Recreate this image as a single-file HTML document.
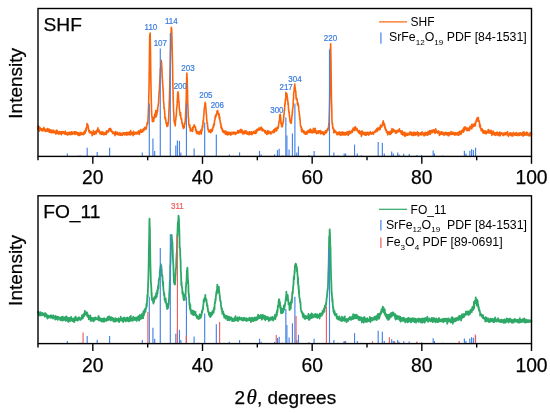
<!DOCTYPE html>
<html><head><meta charset="utf-8"><title>XRD</title>
<style>html,body{margin:0;padding:0;background:#fff}svg{display:block}text{white-space:pre}</style></head>
<body>
<svg width="550" height="413" viewBox="0 0 550 413" font-family="'Liberation Sans', sans-serif">
<rect width="550" height="413" fill="#fff"/>
<polyline fill="none" stroke="#fa640a" stroke-width="1.6" stroke-linejoin="round" points="38.00,129.69 38.16,125.84 38.33,128.43 38.49,127.65 38.66,127.81 38.82,128.07 38.99,126.59 39.15,128.17 39.32,127.69 39.48,131.31 39.64,128.73 39.81,128.29 39.97,128.41 40.14,128.13 40.30,127.86 40.47,128.48 40.63,129.27 40.80,128.71 40.96,129.78 41.13,128.85 41.29,129.09 41.45,130.44 41.62,129.63 41.78,128.79 41.95,129.11 42.11,129.78 42.28,131.01 42.44,129.18 42.61,129.25 42.77,130.36 42.93,128.80 43.10,129.35 43.26,130.39 43.43,130.18 43.59,129.81 43.76,130.35 43.92,127.41 44.09,130.73 44.25,129.09 44.42,128.52 44.58,130.22 44.74,130.63 44.91,129.69 45.07,129.19 45.24,130.17 45.40,130.14 45.57,131.43 45.73,130.90 45.90,130.47 46.06,131.29 46.22,130.21 46.39,129.63 46.55,130.95 46.72,130.99 46.88,130.34 47.05,129.90 47.21,130.79 47.38,128.51 47.54,131.26 47.71,131.12 47.87,129.34 48.03,130.82 48.20,129.98 48.36,131.48 48.53,129.14 48.69,130.12 48.86,131.54 49.02,131.95 49.19,129.16 49.35,130.60 49.51,131.34 49.68,130.57 49.84,132.47 50.01,130.13 50.17,131.48 50.34,130.31 50.50,132.43 50.67,131.25 50.83,130.98 51.00,129.86 51.16,132.78 51.32,132.02 51.49,132.05 51.65,132.40 51.82,131.75 51.98,130.94 52.15,130.83 52.31,130.85 52.48,132.73 52.64,130.34 52.80,131.10 52.97,131.36 53.13,131.85 53.30,132.18 53.46,130.64 53.63,130.26 53.79,131.75 53.96,132.81 54.12,132.45 54.29,132.01 54.45,131.58 54.61,132.12 54.78,131.69 54.94,132.61 55.11,131.26 55.27,132.07 55.44,131.89 55.60,132.46 55.77,132.21 55.93,134.22 56.09,133.34 56.26,133.36 56.42,130.36 56.59,131.83 56.75,131.62 56.92,132.62 57.08,130.24 57.25,133.20 57.41,133.13 57.58,131.13 57.74,131.42 57.90,131.59 58.07,132.33 58.23,132.86 58.40,134.07 58.56,132.18 58.73,133.02 58.89,132.51 59.06,133.90 59.22,133.05 59.38,133.60 59.55,131.53 59.71,132.30 59.88,131.78 60.04,133.78 60.21,133.07 60.37,132.27 60.54,132.16 60.70,132.97 60.87,131.97 61.03,131.79 61.19,133.01 61.36,134.72 61.52,132.42 61.69,132.17 61.85,131.66 62.02,131.53 62.18,133.13 62.35,133.43 62.51,132.72 62.67,133.01 62.84,132.84 63.00,132.87 63.17,131.47 63.33,132.39 63.50,132.89 63.66,132.14 63.83,132.41 63.99,132.13 64.16,132.56 64.32,133.58 64.48,132.52 64.65,132.75 64.81,133.58 64.98,133.45 65.14,134.36 65.31,131.14 65.47,133.67 65.64,132.53 65.80,133.07 65.96,133.68 66.13,133.90 66.29,133.88 66.46,133.13 66.62,134.38 66.79,132.78 66.95,132.91 67.12,133.72 67.28,132.58 67.45,134.90 67.61,133.94 67.77,134.93 67.94,133.06 68.10,132.77 68.27,133.25 68.43,133.74 68.60,132.62 68.76,133.46 68.93,133.13 69.09,134.53 69.25,132.59 69.42,134.06 69.58,132.62 69.75,132.36 69.91,132.58 70.08,132.18 70.24,133.33 70.41,134.09 70.57,133.36 70.74,133.76 70.90,134.63 71.06,133.47 71.23,133.42 71.39,133.02 71.56,131.89 71.72,133.92 71.89,131.78 72.05,133.84 72.22,133.28 72.38,134.26 72.54,133.25 72.71,132.61 72.87,133.62 73.04,132.84 73.20,133.17 73.37,133.37 73.53,133.22 73.70,133.18 73.86,132.64 74.03,133.19 74.19,131.53 74.35,133.23 74.52,132.35 74.68,134.33 74.85,134.46 75.01,131.72 75.18,133.51 75.34,133.28 75.51,132.50 75.67,133.85 75.83,133.01 76.00,131.90 76.16,133.18 76.33,133.29 76.49,133.51 76.66,132.37 76.82,133.95 76.99,134.05 77.15,132.45 77.32,132.87 77.48,133.36 77.64,132.95 77.81,134.93 77.97,133.62 78.14,132.57 78.30,132.76 78.47,133.39 78.63,135.41 78.80,133.29 78.96,133.55 79.12,133.88 79.29,133.40 79.45,135.39 79.62,132.98 79.78,134.07 79.95,133.57 80.11,133.96 80.28,132.41 80.44,134.94 80.61,133.31 80.77,133.44 80.93,132.60 81.10,132.76 81.26,133.87 81.43,134.23 81.59,134.01 81.76,134.40 81.92,133.96 82.09,133.35 82.25,134.03 82.41,133.81 82.58,133.18 82.74,133.88 82.91,134.34 83.07,133.40 83.24,132.85 83.40,133.75 83.57,134.73 83.73,132.84 83.90,132.88 84.06,132.76 84.22,133.87 84.39,131.05 84.55,132.87 84.72,133.44 84.88,131.44 85.05,133.28 85.21,132.14 85.38,130.80 85.54,131.11 85.70,129.01 85.87,129.42 86.03,131.19 86.20,127.91 86.36,130.03 86.53,127.44 86.69,127.94 86.86,126.39 87.02,123.51 87.19,124.99 87.35,125.71 87.51,124.37 87.68,124.46 87.84,126.74 88.01,126.23 88.17,125.79 88.34,127.48 88.50,129.66 88.67,128.95 88.83,130.87 88.99,131.92 89.16,130.96 89.32,130.27 89.49,130.46 89.65,131.92 89.82,132.98 89.98,132.63 90.15,133.04 90.31,132.29 90.48,133.06 90.64,132.48 90.80,132.68 90.97,131.89 91.13,131.70 91.30,132.70 91.46,132.19 91.63,132.35 91.79,133.80 91.96,133.14 92.12,135.79 92.28,134.07 92.45,132.72 92.61,133.95 92.78,133.59 92.94,132.68 93.11,134.23 93.27,132.58 93.44,130.57 93.60,133.91 93.77,132.65 93.93,134.45 94.09,132.54 94.26,132.02 94.42,134.36 94.59,131.97 94.75,133.02 94.92,134.03 95.08,132.73 95.25,132.43 95.41,132.46 95.57,132.98 95.74,131.33 95.90,132.44 96.07,132.23 96.23,133.67 96.40,131.01 96.56,130.27 96.73,131.63 96.89,130.38 97.06,130.87 97.22,130.58 97.38,131.46 97.55,129.64 97.71,130.14 97.88,127.79 98.04,129.44 98.21,131.85 98.37,129.86 98.54,129.99 98.70,129.68 98.86,131.56 99.03,131.38 99.19,130.31 99.36,132.22 99.52,132.04 99.69,132.67 99.85,131.57 100.02,133.88 100.18,132.83 100.35,132.49 100.51,132.26 100.67,132.61 100.84,133.69 101.00,132.78 101.17,134.03 101.33,133.66 101.50,134.39 101.66,133.96 101.83,133.24 101.99,131.66 102.15,133.61 102.32,134.06 102.48,133.53 102.65,133.88 102.81,133.00 102.98,133.08 103.14,132.60 103.31,134.60 103.47,133.55 103.64,132.98 103.80,132.24 103.96,133.25 104.13,134.63 104.29,133.75 104.46,132.69 104.62,134.55 104.79,134.51 104.95,134.09 105.12,133.87 105.28,134.15 105.44,133.56 105.61,133.70 105.77,132.25 105.94,134.19 106.10,132.98 106.27,134.49 106.43,130.75 106.60,133.10 106.76,133.23 106.93,131.90 107.09,132.48 107.25,132.61 107.42,132.30 107.58,131.11 107.75,131.31 107.91,132.22 108.08,132.29 108.24,131.01 108.41,130.82 108.57,130.77 108.73,131.41 108.90,129.26 109.06,128.86 109.23,130.15 109.39,128.87 109.56,129.31 109.72,129.93 109.89,130.31 110.05,128.83 110.22,130.70 110.38,128.29 110.54,130.64 110.71,128.72 110.87,129.16 111.04,131.15 111.20,130.32 111.37,130.13 111.53,130.63 111.70,131.66 111.86,131.35 112.02,131.55 112.19,132.71 112.35,131.25 112.52,131.62 112.68,131.73 112.85,133.39 113.01,133.36 113.18,133.74 113.34,132.66 113.51,132.66 113.67,133.64 113.83,132.62 114.00,133.78 114.16,133.76 114.33,132.57 114.49,133.16 114.66,133.18 114.82,134.85 114.99,135.63 115.15,133.32 115.31,133.45 115.48,131.48 115.64,133.67 115.81,133.50 115.97,132.60 116.14,134.23 116.30,132.20 116.47,133.39 116.63,133.71 116.80,132.52 116.96,134.35 117.12,134.53 117.29,132.42 117.45,132.41 117.62,134.16 117.78,133.62 117.95,132.60 118.11,133.40 118.28,133.57 118.44,133.54 118.60,134.38 118.77,134.00 118.93,135.20 119.10,134.86 119.26,134.26 119.43,134.61 119.59,134.83 119.76,134.29 119.92,132.63 120.09,134.43 120.25,133.75 120.41,135.09 120.58,133.77 120.74,134.14 120.91,133.97 121.07,135.14 121.24,133.84 121.40,133.46 121.57,133.96 121.73,133.31 121.89,133.83 122.06,133.68 122.22,133.92 122.39,135.35 122.55,133.33 122.72,133.72 122.88,133.51 123.05,134.26 123.21,132.66 123.38,133.08 123.54,133.64 123.70,134.15 123.87,133.63 124.03,133.24 124.20,132.92 124.36,134.11 124.53,134.91 124.69,133.94 124.86,133.82 125.02,134.04 125.18,132.83 125.35,133.38 125.51,133.41 125.68,133.90 125.84,133.61 126.01,132.58 126.17,134.61 126.34,135.09 126.50,133.39 126.67,133.96 126.83,133.85 126.99,134.29 127.16,132.32 127.32,135.00 127.49,133.19 127.65,134.69 127.82,133.66 127.98,133.24 128.15,133.45 128.31,134.35 128.47,132.82 128.64,133.23 128.80,133.14 128.97,132.06 129.13,134.67 129.30,134.04 129.46,133.51 129.63,134.54 129.79,132.68 129.96,133.45 130.12,135.00 130.28,134.35 130.45,131.55 130.61,130.58 130.78,132.57 130.94,134.39 131.11,133.04 131.27,133.26 131.44,133.97 131.60,132.66 131.76,133.61 131.93,134.10 132.09,133.81 132.26,133.74 132.42,132.85 132.59,133.82 132.75,132.98 132.92,134.49 133.08,135.59 133.25,132.68 133.41,131.41 133.57,132.93 133.74,133.61 133.90,134.19 134.07,134.20 134.23,132.55 134.40,132.53 134.56,134.32 134.73,132.23 134.89,134.13 135.05,132.96 135.22,133.81 135.38,133.74 135.55,133.78 135.71,133.80 135.88,132.18 136.04,133.29 136.21,133.01 136.37,133.25 136.54,134.04 136.70,132.68 136.86,132.26 137.03,132.21 137.19,132.55 137.36,133.46 137.52,132.02 137.69,133.75 137.85,132.93 138.02,132.43 138.18,131.39 138.34,132.76 138.51,133.11 138.67,130.85 138.84,133.46 139.00,133.82 139.17,132.58 139.33,132.65 139.50,134.34 139.66,133.20 139.83,131.19 139.99,131.92 140.15,131.72 140.32,131.64 140.48,129.52 140.65,132.32 140.81,130.94 140.98,131.60 141.14,131.23 141.31,132.07 141.47,130.89 141.63,130.32 141.80,131.46 141.96,132.19 142.13,130.45 142.29,131.95 142.46,130.78 142.62,129.91 142.79,131.77 142.95,129.40 143.12,131.05 143.28,129.47 143.44,130.27 143.61,128.50 143.77,128.76 143.94,130.51 144.10,129.52 144.27,129.25 144.43,128.64 144.60,129.39 144.76,127.41 144.92,127.55 145.09,128.37 145.25,127.53 145.42,127.51 145.58,127.98 145.75,127.72 145.91,127.44 146.08,129.17 146.24,128.26 146.41,128.22 146.57,126.59 146.73,125.74 146.90,124.30 147.06,125.01 147.23,122.52 147.39,123.47 147.56,124.10 147.72,123.98 147.89,121.73 148.05,117.47 148.21,116.40 148.38,110.94 148.54,108.24 148.71,100.42 148.87,93.98 149.04,87.53 149.20,73.47 149.37,64.55 149.53,48.01 149.70,36.61 149.86,34.22 150.02,34.13 150.19,33.13 150.35,43.65 150.52,51.71 150.68,66.43 150.85,79.87 151.01,88.06 151.18,95.69 151.34,101.22 151.50,109.08 151.67,113.51 151.83,116.00 152.00,117.51 152.16,116.96 152.33,121.59 152.49,119.97 152.66,120.22 152.82,121.45 152.99,118.04 153.15,120.47 153.31,120.22 153.48,120.57 153.64,121.43 153.81,119.98 153.97,116.70 154.14,118.03 154.30,118.18 154.47,117.56 154.63,115.20 154.79,114.18 154.96,116.54 155.12,115.85 155.29,115.02 155.45,112.49 155.62,116.88 155.78,110.54 155.95,113.76 156.11,116.90 156.28,113.79 156.44,114.15 156.60,112.05 156.77,115.16 156.93,111.20 157.10,112.79 157.26,112.00 157.43,109.60 157.59,111.38 157.76,107.06 157.92,106.86 158.08,106.40 158.25,104.24 158.41,103.80 158.58,102.58 158.74,98.53 158.91,95.78 159.07,93.29 159.24,90.85 159.40,90.07 159.57,85.30 159.73,83.40 159.89,79.40 160.06,74.90 160.22,75.28 160.39,68.78 160.55,68.44 160.72,69.47 160.88,62.64 161.05,63.88 161.21,60.42 161.37,63.07 161.54,62.08 161.70,66.07 161.87,67.88 162.03,71.79 162.20,77.50 162.36,78.04 162.53,81.93 162.69,83.84 162.86,86.71 163.02,88.84 163.18,90.27 163.35,96.30 163.51,101.51 163.68,102.21 163.84,103.05 164.01,108.52 164.17,107.52 164.34,109.16 164.50,110.11 164.66,112.08 164.83,114.50 164.99,118.73 165.16,117.11 165.32,117.19 165.49,118.73 165.65,120.11 165.82,119.18 165.98,122.09 166.15,123.43 166.31,123.60 166.47,124.45 166.64,122.83 166.80,122.82 166.97,126.46 167.13,126.52 167.30,123.87 167.46,125.84 167.63,125.60 167.79,125.94 167.95,125.12 168.12,123.60 168.28,123.28 168.45,121.71 168.61,119.41 168.78,114.43 168.94,109.41 169.11,108.18 169.27,101.92 169.44,99.05 169.60,93.37 169.76,85.46 169.93,76.59 170.09,69.44 170.26,63.72 170.42,51.83 170.59,48.32 170.75,41.54 170.92,35.36 171.08,34.62 171.24,27.24 171.41,31.09 171.57,27.95 171.74,31.57 171.90,35.64 172.07,45.21 172.23,49.09 172.40,59.00 172.56,64.60 172.73,77.09 172.89,86.24 173.05,90.65 173.22,99.68 173.38,103.87 173.55,111.32 173.71,112.71 173.88,114.14 174.04,120.83 174.21,121.02 174.37,121.56 174.53,123.08 174.70,122.63 174.86,124.49 175.03,123.41 175.19,125.86 175.36,124.31 175.52,120.75 175.69,119.73 175.85,119.42 176.02,116.08 176.18,116.44 176.34,114.40 176.51,111.05 176.67,108.79 176.84,107.58 177.00,106.22 177.17,103.64 177.33,98.77 177.50,97.85 177.66,93.49 177.82,94.37 177.99,91.82 178.15,95.21 178.32,93.21 178.48,95.50 178.65,99.21 178.81,102.40 178.98,101.65 179.14,105.19 179.31,108.11 179.47,109.93 179.63,109.86 179.80,112.32 179.96,112.77 180.13,115.75 180.29,115.25 180.46,113.35 180.62,112.77 180.79,116.32 180.95,118.33 181.11,117.77 181.28,119.46 181.44,118.67 181.61,118.57 181.77,122.08 181.94,122.30 182.10,123.92 182.27,122.50 182.43,125.04 182.60,124.87 182.76,126.99 182.92,125.97 183.09,126.28 183.25,126.52 183.42,128.54 183.58,127.23 183.75,126.28 183.91,125.77 184.08,125.39 184.24,127.60 184.40,123.49 184.57,123.79 184.73,124.55 184.90,124.08 185.06,121.21 185.23,120.67 185.39,118.61 185.56,116.38 185.72,111.97 185.89,110.34 186.05,103.46 186.21,99.88 186.38,89.05 186.54,86.09 186.71,76.54 186.87,73.12 187.04,77.62 187.20,79.09 187.37,87.49 187.53,91.58 187.69,102.26 187.86,105.25 188.02,108.23 188.19,113.80 188.35,117.72 188.52,118.10 188.68,121.65 188.85,125.02 189.01,124.98 189.18,125.11 189.34,125.45 189.50,127.45 189.67,125.94 189.83,124.98 190.00,127.89 190.16,127.90 190.33,131.06 190.49,129.77 190.66,128.92 190.82,128.96 190.98,130.72 191.15,129.54 191.31,129.84 191.48,130.31 191.64,130.43 191.81,130.34 191.97,130.19 192.14,131.13 192.30,131.26 192.47,127.63 192.63,131.48 192.79,128.63 192.96,129.35 193.12,126.89 193.29,127.58 193.45,127.08 193.62,126.64 193.78,127.15 193.95,126.72 194.11,124.85 194.27,125.79 194.44,126.79 194.60,126.92 194.77,126.10 194.93,126.51 195.10,127.06 195.26,126.55 195.43,126.88 195.59,130.27 195.76,128.81 195.92,129.79 196.08,129.44 196.25,131.83 196.41,132.63 196.58,131.11 196.74,132.08 196.91,131.15 197.07,133.66 197.24,133.05 197.40,131.58 197.56,133.56 197.73,132.83 197.89,132.93 198.06,132.91 198.22,132.00 198.39,132.13 198.55,133.17 198.72,132.55 198.88,131.72 199.05,134.38 199.21,132.33 199.37,131.98 199.54,131.82 199.70,133.03 199.87,133.24 200.03,132.52 200.20,133.02 200.36,130.79 200.53,131.73 200.69,131.54 200.85,131.85 201.02,132.16 201.18,129.64 201.35,134.25 201.51,130.26 201.68,131.10 201.84,131.18 202.01,130.76 202.17,129.60 202.34,125.76 202.50,126.76 202.66,127.72 202.83,124.81 202.99,123.33 203.16,120.34 203.32,122.82 203.49,120.19 203.65,116.48 203.82,115.35 203.98,113.24 204.14,109.67 204.31,108.73 204.47,107.54 204.64,106.31 204.80,106.09 204.97,103.39 205.13,102.35 205.30,103.95 205.46,103.21 205.63,103.59 205.79,108.79 205.95,108.51 206.12,111.30 206.28,114.16 206.45,113.98 206.61,118.30 206.78,119.99 206.94,121.12 207.11,123.33 207.27,123.49 207.43,123.23 207.60,126.42 207.76,126.73 207.93,129.34 208.09,129.38 208.26,129.14 208.42,130.15 208.59,131.75 208.75,131.82 208.92,131.31 209.08,131.55 209.24,131.02 209.41,131.26 209.57,132.00 209.74,131.40 209.90,131.81 210.07,130.51 210.23,129.99 210.40,129.94 210.56,131.07 210.72,132.65 210.89,132.44 211.05,130.30 211.22,129.65 211.38,131.71 211.55,131.24 211.71,129.30 211.88,131.40 212.04,130.30 212.21,131.14 212.37,129.87 212.53,130.07 212.70,129.12 212.86,127.42 213.03,127.69 213.19,126.73 213.36,127.76 213.52,125.26 213.69,124.06 213.85,125.81 214.01,125.65 214.18,125.29 214.34,124.17 214.51,120.40 214.67,120.54 214.84,119.89 215.00,119.70 215.17,116.25 215.33,118.06 215.50,117.61 215.66,115.24 215.82,115.84 215.99,116.51 216.15,114.31 216.32,115.03 216.48,114.41 216.65,113.10 216.81,112.65 216.98,111.30 217.14,113.29 217.30,110.82 217.47,110.49 217.63,112.52 217.80,110.75 217.96,112.63 218.13,113.88 218.29,113.04 218.46,113.63 218.62,115.34 218.79,115.80 218.95,113.55 219.11,114.64 219.28,118.82 219.44,118.44 219.61,116.23 219.77,118.00 219.94,120.50 220.10,120.15 220.27,122.66 220.43,123.00 220.59,124.23 220.76,123.13 220.92,125.81 221.09,127.92 221.25,125.61 221.42,128.43 221.58,128.64 221.75,128.81 221.91,128.59 222.08,127.95 222.24,128.67 222.40,130.66 222.57,131.21 222.73,131.76 222.90,131.79 223.06,132.00 223.23,130.98 223.39,130.48 223.56,131.98 223.72,132.42 223.88,132.20 224.05,130.87 224.21,131.91 224.38,131.15 224.54,132.71 224.71,131.72 224.87,132.59 225.04,133.10 225.20,132.99 225.37,134.14 225.53,131.99 225.69,131.08 225.86,133.89 226.02,134.32 226.19,134.38 226.35,133.40 226.52,133.65 226.68,133.30 226.85,132.08 227.01,132.73 227.17,133.69 227.34,132.76 227.50,134.96 227.67,131.95 227.83,132.93 228.00,134.30 228.16,132.80 228.33,132.36 228.49,132.17 228.66,132.73 228.82,134.70 228.98,133.74 229.15,133.84 229.31,132.94 229.48,134.14 229.64,133.50 229.81,132.60 229.97,133.01 230.14,133.59 230.30,134.44 230.46,133.36 230.63,133.85 230.79,135.18 230.96,132.71 231.12,132.32 231.29,134.26 231.45,133.78 231.62,133.30 231.78,133.61 231.95,133.09 232.11,133.82 232.27,133.06 232.44,134.05 232.60,132.30 232.77,132.60 232.93,133.40 233.10,132.87 233.26,133.88 233.43,133.21 233.59,132.74 233.75,133.38 233.92,132.71 234.08,131.77 234.25,132.11 234.41,132.38 234.58,132.64 234.74,133.11 234.91,133.79 235.07,133.44 235.24,134.49 235.40,134.00 235.56,132.66 235.73,134.25 235.89,133.79 236.06,132.28 236.22,132.91 236.39,133.57 236.55,132.75 236.72,133.39 236.88,132.78 237.04,133.00 237.21,132.01 237.37,132.59 237.54,131.85 237.70,132.74 237.87,130.52 238.03,132.31 238.20,133.09 238.36,132.42 238.53,131.80 238.69,132.26 238.85,130.93 239.02,130.89 239.18,131.27 239.35,131.42 239.51,132.41 239.68,130.64 239.84,132.37 240.01,129.94 240.17,130.64 240.33,131.32 240.50,132.42 240.66,130.75 240.83,129.32 240.99,131.71 241.16,131.30 241.32,130.33 241.49,130.38 241.65,130.73 241.82,131.50 241.98,132.06 242.14,130.10 242.31,133.64 242.47,131.53 242.64,131.26 242.80,132.28 242.97,131.81 243.13,133.92 243.30,132.83 243.46,131.54 243.62,131.58 243.79,131.54 243.95,131.75 244.12,132.73 244.28,131.59 244.45,133.70 244.61,132.22 244.78,132.22 244.94,133.26 245.11,130.67 245.27,131.67 245.43,133.10 245.60,132.62 245.76,132.65 245.93,133.06 246.09,132.22 246.26,132.64 246.42,131.62 246.59,131.20 246.75,134.03 246.91,132.12 247.08,132.34 247.24,134.24 247.41,133.97 247.57,132.59 247.74,132.62 247.90,133.03 248.07,132.28 248.23,133.63 248.40,133.29 248.56,133.29 248.72,133.85 248.89,133.83 249.05,134.83 249.22,134.54 249.38,131.71 249.55,134.00 249.71,132.23 249.88,131.95 250.04,133.83 250.20,132.58 250.37,132.91 250.53,134.12 250.70,132.58 250.86,132.36 251.03,133.42 251.19,134.19 251.36,133.56 251.52,131.69 251.69,132.46 251.85,132.87 252.01,134.68 252.18,133.73 252.34,133.65 252.51,133.92 252.67,132.53 252.84,133.19 253.00,133.14 253.17,131.77 253.33,132.58 253.49,133.04 253.66,131.49 253.82,133.12 253.99,133.01 254.15,133.18 254.32,131.45 254.48,132.17 254.65,133.32 254.81,132.62 254.98,131.07 255.14,131.91 255.30,132.92 255.47,131.42 255.63,131.74 255.80,133.68 255.96,131.13 256.13,130.94 256.29,129.97 256.46,130.18 256.62,132.10 256.78,130.43 256.95,129.30 257.11,129.41 257.28,130.19 257.44,130.81 257.61,129.22 257.77,130.52 257.94,129.23 258.10,129.94 258.27,130.00 258.43,129.98 258.59,128.86 258.76,129.03 258.92,129.62 259.09,127.75 259.25,129.15 259.42,129.44 259.58,129.92 259.75,128.81 259.91,128.64 260.07,128.96 260.24,128.09 260.40,128.63 260.57,129.27 260.73,129.18 260.90,127.91 261.06,128.68 261.23,126.97 261.39,129.95 261.56,128.71 261.72,129.56 261.88,128.34 262.05,129.44 262.21,130.07 262.38,130.70 262.54,128.54 262.71,130.79 262.87,129.93 263.04,129.47 263.20,130.79 263.36,130.17 263.53,130.29 263.69,130.02 263.86,131.01 264.02,130.95 264.19,130.87 264.35,130.24 264.52,130.77 264.68,131.73 264.85,132.64 265.01,131.52 265.17,132.95 265.34,131.72 265.50,130.82 265.67,132.48 265.83,131.10 266.00,132.43 266.16,133.11 266.33,131.92 266.49,132.18 266.65,134.55 266.82,132.60 266.98,132.67 267.15,133.18 267.31,132.44 267.48,132.49 267.64,132.95 267.81,130.50 267.97,133.94 268.14,131.74 268.30,131.76 268.46,133.22 268.63,132.78 268.79,131.65 268.96,132.96 269.12,131.76 269.29,132.16 269.45,131.44 269.62,132.03 269.78,133.11 269.94,132.86 270.11,133.00 270.27,133.53 270.44,132.64 270.60,132.06 270.77,132.36 270.93,134.05 271.10,132.56 271.26,132.77 271.43,132.34 271.59,132.60 271.75,132.70 271.92,132.24 272.08,132.04 272.25,131.39 272.41,131.25 272.58,132.31 272.74,132.54 272.91,132.61 273.07,131.72 273.23,130.81 273.40,132.05 273.56,131.94 273.73,129.85 273.89,131.90 274.06,131.58 274.22,132.49 274.39,129.75 274.55,129.49 274.72,131.34 274.88,128.77 275.04,129.67 275.21,129.22 275.37,129.19 275.54,128.22 275.70,129.73 275.87,130.81 276.03,130.20 276.20,130.11 276.36,129.23 276.52,130.89 276.69,129.88 276.85,130.27 277.02,127.56 277.18,129.28 277.35,127.61 277.51,128.88 277.68,128.46 277.84,126.80 278.01,127.74 278.17,128.30 278.33,127.05 278.50,126.48 278.66,124.08 278.83,123.29 278.99,121.64 279.16,121.75 279.32,121.60 279.49,119.25 279.65,117.37 279.81,114.91 279.98,116.39 280.14,115.61 280.31,114.18 280.47,115.58 280.64,118.68 280.80,119.43 280.97,123.72 281.13,122.97 281.30,122.69 281.46,124.02 281.62,126.79 281.79,124.34 281.95,126.31 282.12,125.91 282.28,126.81 282.45,125.43 282.61,123.88 282.78,124.24 282.94,122.91 283.10,123.01 283.27,120.71 283.43,121.96 283.60,118.10 283.76,117.33 283.93,114.38 284.09,113.77 284.26,111.94 284.42,110.40 284.59,109.69 284.75,105.86 284.91,103.65 285.08,104.91 285.24,101.19 285.41,99.09 285.57,100.62 285.74,98.84 285.90,92.27 286.07,95.13 286.23,96.43 286.39,96.14 286.56,93.76 286.72,97.29 286.89,93.71 287.05,95.18 287.22,96.53 287.38,97.26 287.55,99.69 287.71,101.30 287.88,101.05 288.04,104.78 288.20,103.22 288.37,105.59 288.53,110.07 288.70,109.40 288.86,112.39 289.03,111.93 289.19,113.69 289.36,115.33 289.52,117.00 289.68,117.56 289.85,119.05 290.01,120.74 290.18,122.11 290.34,121.38 290.51,122.41 290.67,122.93 290.84,120.66 291.00,119.92 291.17,123.30 291.33,122.42 291.49,120.19 291.66,119.61 291.82,116.88 291.99,114.96 292.15,115.60 292.32,111.51 292.48,112.85 292.65,108.61 292.81,107.80 292.97,107.95 293.14,105.57 293.30,99.83 293.47,99.53 293.63,93.75 293.80,92.21 293.96,91.77 294.13,91.77 294.29,86.93 294.46,87.88 294.62,86.53 294.78,83.98 294.95,86.30 295.11,89.87 295.28,88.05 295.44,90.30 295.61,92.20 295.77,90.95 295.94,95.67 296.10,97.46 296.26,98.85 296.43,99.52 296.59,97.70 296.76,98.44 296.92,98.95 297.09,99.51 297.25,100.36 297.42,103.76 297.58,105.11 297.75,102.57 297.91,105.48 298.07,103.18 298.24,105.47 298.40,105.49 298.57,105.71 298.73,109.32 298.90,110.66 299.06,111.38 299.23,112.68 299.39,113.58 299.55,116.21 299.72,117.13 299.88,119.65 300.05,119.36 300.21,122.41 300.38,124.01 300.54,125.98 300.71,126.83 300.87,126.88 301.04,126.84 301.20,126.46 301.36,128.98 301.53,130.94 301.69,131.65 301.86,128.03 302.02,130.09 302.19,130.77 302.35,130.36 302.52,131.70 302.68,131.72 302.84,131.33 303.01,131.88 303.17,130.54 303.34,131.17 303.50,131.30 303.67,132.97 303.83,130.71 304.00,132.02 304.16,132.94 304.33,132.20 304.49,132.99 304.65,131.67 304.82,132.66 304.98,133.09 305.15,134.29 305.31,132.92 305.48,133.55 305.64,132.25 305.81,132.32 305.97,133.64 306.13,132.73 306.30,133.47 306.46,132.80 306.63,134.06 306.79,134.27 306.96,131.31 307.12,133.74 307.29,132.41 307.45,132.42 307.62,131.84 307.78,132.56 307.94,130.85 308.11,131.16 308.27,131.08 308.44,132.01 308.60,132.55 308.77,132.33 308.93,131.94 309.10,131.01 309.26,129.87 309.42,131.83 309.59,131.55 309.75,131.69 309.92,132.64 310.08,131.09 310.25,131.02 310.41,128.99 310.58,131.64 310.74,131.02 310.91,130.33 311.07,131.35 311.23,129.95 311.40,130.39 311.56,132.72 311.73,131.54 311.89,131.68 312.06,131.48 312.22,131.36 312.39,130.91 312.55,132.88 312.71,130.62 312.88,131.39 313.04,130.47 313.21,130.35 313.37,128.36 313.54,128.86 313.70,132.18 313.87,132.14 314.03,130.33 314.20,130.73 314.36,131.37 314.52,129.88 314.69,132.54 314.85,129.92 315.02,130.26 315.18,128.38 315.35,132.46 315.51,131.14 315.68,132.66 315.84,130.25 316.00,131.56 316.17,131.36 316.33,131.54 316.50,133.34 316.66,133.57 316.83,132.80 316.99,131.21 317.16,132.47 317.32,132.94 317.49,132.27 317.65,132.33 317.81,132.31 317.98,131.10 318.14,132.20 318.31,133.49 318.47,131.17 318.64,132.21 318.80,132.94 318.97,130.99 319.13,132.15 319.29,130.78 319.46,131.82 319.62,131.14 319.79,131.64 319.95,132.04 320.12,132.27 320.28,132.37 320.45,130.43 320.61,134.04 320.78,132.40 320.94,131.69 321.10,132.13 321.27,133.00 321.43,131.84 321.60,132.39 321.76,132.36 321.93,133.27 322.09,132.13 322.26,133.22 322.42,133.13 322.58,132.69 322.75,133.93 322.91,132.85 323.08,131.78 323.24,133.09 323.41,132.92 323.57,132.77 323.74,133.00 323.90,134.87 324.07,132.96 324.23,133.14 324.39,132.48 324.56,133.84 324.72,132.58 324.89,131.86 325.05,131.44 325.22,132.96 325.38,133.09 325.55,130.91 325.71,131.61 325.87,132.77 326.04,133.02 326.20,130.76 326.37,131.47 326.53,132.47 326.70,131.05 326.86,130.94 327.03,130.65 327.19,129.68 327.36,130.68 327.52,130.61 327.68,128.59 327.85,129.61 328.01,130.09 328.18,128.58 328.34,128.59 328.51,126.09 328.67,126.94 328.84,122.99 329.00,123.92 329.16,118.19 329.33,113.69 329.49,107.75 329.66,100.88 329.82,91.06 329.99,78.93 330.15,66.49 330.32,56.10 330.48,48.01 330.65,43.83 330.81,53.90 330.97,60.71 331.14,73.99 331.30,86.25 331.47,99.55 331.63,104.51 331.80,111.11 331.96,119.17 332.13,122.91 332.29,124.80 332.45,123.41 332.62,126.38 332.78,128.25 332.95,128.31 333.11,127.26 333.28,129.10 333.44,128.25 333.61,129.12 333.77,132.69 333.94,131.58 334.10,129.83 334.26,130.03 334.43,132.05 334.59,131.24 334.76,132.48 334.92,131.51 335.09,132.04 335.25,132.55 335.42,131.50 335.58,130.80 335.74,131.54 335.91,132.06 336.07,132.57 336.24,132.76 336.40,132.81 336.57,133.38 336.73,132.19 336.90,134.26 337.06,134.83 337.23,133.42 337.39,133.30 337.55,134.27 337.72,133.77 337.88,133.39 338.05,133.11 338.21,132.63 338.38,132.28 338.54,133.91 338.71,134.39 338.87,132.44 339.03,133.32 339.20,133.59 339.36,133.04 339.53,132.76 339.69,133.10 339.86,131.74 340.02,133.41 340.19,133.22 340.35,135.33 340.52,134.31 340.68,133.21 340.84,133.51 341.01,135.01 341.17,134.93 341.34,133.70 341.50,133.43 341.67,132.29 341.83,133.27 342.00,133.41 342.16,132.92 342.32,135.06 342.49,131.94 342.65,133.45 342.82,133.92 342.98,133.95 343.15,135.04 343.31,132.36 343.48,132.92 343.64,133.65 343.81,133.68 343.97,133.23 344.13,132.90 344.30,134.49 344.46,132.65 344.63,133.05 344.79,134.80 344.96,135.05 345.12,134.29 345.29,132.78 345.45,132.78 345.61,132.73 345.78,132.51 345.94,133.13 346.11,134.58 346.27,133.66 346.44,132.79 346.60,132.75 346.77,132.38 346.93,134.44 347.10,131.60 347.26,133.58 347.42,132.05 347.59,132.35 347.75,131.93 347.92,134.05 348.08,133.09 348.25,135.54 348.41,132.16 348.58,132.05 348.74,133.49 348.90,133.40 349.07,132.59 349.23,130.97 349.40,133.99 349.56,133.13 349.73,132.89 349.89,131.91 350.06,132.93 350.22,131.74 350.39,132.18 350.55,131.86 350.71,133.07 350.88,131.36 351.04,131.35 351.21,132.56 351.37,131.61 351.54,131.24 351.70,130.89 351.87,131.86 352.03,130.20 352.19,131.12 352.36,132.45 352.52,130.75 352.69,129.46 352.85,128.90 353.02,130.06 353.18,128.57 353.35,128.07 353.51,128.76 353.68,128.30 353.84,130.13 354.00,127.73 354.17,130.65 354.33,128.26 354.50,129.07 354.66,129.58 354.83,129.11 354.99,129.61 355.16,127.92 355.32,126.67 355.48,128.78 355.65,127.38 355.81,128.55 355.98,130.16 356.14,129.13 356.31,128.86 356.47,128.47 356.64,129.42 356.80,129.68 356.97,128.46 357.13,130.42 357.29,129.26 357.46,130.65 357.62,130.16 357.79,131.68 357.95,131.70 358.12,131.05 358.28,131.08 358.45,131.73 358.61,132.75 358.77,132.58 358.94,131.88 359.10,132.14 359.27,133.42 359.43,130.60 359.60,132.69 359.76,131.49 359.93,133.62 360.09,132.05 360.26,132.48 360.42,131.69 360.58,132.76 360.75,133.52 360.91,134.37 361.08,131.83 361.24,132.62 361.41,136.52 361.57,133.94 361.74,133.15 361.90,133.66 362.06,130.90 362.23,134.70 362.39,133.45 362.56,132.09 362.72,134.39 362.89,132.84 363.05,132.52 363.22,133.90 363.38,133.81 363.55,133.07 363.71,133.43 363.87,132.33 364.04,132.26 364.20,134.31 364.37,134.68 364.53,133.92 364.70,133.88 364.86,133.22 365.03,133.45 365.19,132.76 365.35,135.10 365.52,133.08 365.68,133.94 365.85,133.58 366.01,132.37 366.18,135.27 366.34,133.26 366.51,132.92 366.67,133.68 366.84,132.80 367.00,133.61 367.16,132.74 367.33,134.07 367.49,133.62 367.66,132.38 367.82,134.46 367.99,133.72 368.15,132.59 368.32,133.86 368.48,133.91 368.64,135.15 368.81,132.76 368.97,134.25 369.14,133.41 369.30,134.02 369.47,133.24 369.63,133.40 369.80,133.87 369.96,132.37 370.13,131.55 370.29,133.36 370.45,132.95 370.62,133.39 370.78,133.85 370.95,133.06 371.11,134.27 371.28,133.14 371.44,133.24 371.61,133.83 371.77,133.57 371.93,132.92 372.10,133.05 372.26,132.21 372.43,132.27 372.59,132.84 372.76,133.41 372.92,132.21 373.09,133.28 373.25,134.19 373.42,134.29 373.58,132.27 373.74,133.11 373.91,132.60 374.07,132.66 374.24,132.60 374.40,132.19 374.57,132.35 374.73,131.64 374.90,131.09 375.06,131.44 375.22,131.53 375.39,132.09 375.55,131.15 375.72,131.36 375.88,131.88 376.05,129.48 376.21,129.99 376.38,130.63 376.54,130.01 376.71,128.87 376.87,130.71 377.03,129.55 377.20,128.53 377.36,131.29 377.53,128.06 377.69,129.23 377.86,128.51 378.02,129.22 378.19,129.61 378.35,128.18 378.51,128.84 378.68,128.76 378.84,127.83 379.01,129.96 379.17,128.90 379.34,128.36 379.50,127.90 379.67,128.14 379.83,128.51 380.00,127.76 380.16,129.35 380.32,125.28 380.49,125.48 380.65,127.19 380.82,125.28 380.98,126.85 381.15,125.92 381.31,126.91 381.48,126.39 381.64,127.01 381.80,126.24 381.97,126.25 382.13,125.12 382.30,125.40 382.46,124.49 382.63,123.03 382.79,122.11 382.96,122.06 383.12,123.98 383.29,120.81 383.45,123.88 383.61,123.09 383.78,125.08 383.94,124.87 384.11,124.26 384.27,125.57 384.44,123.61 384.60,126.83 384.77,127.53 384.93,125.63 385.09,128.89 385.26,128.35 385.42,129.08 385.59,127.92 385.75,130.30 385.92,130.63 386.08,130.39 386.25,129.77 386.41,131.70 386.58,132.40 386.74,131.83 386.90,132.59 387.07,131.31 387.23,132.15 387.40,132.49 387.56,132.41 387.73,134.94 387.89,132.86 388.06,132.06 388.22,133.38 388.38,131.71 388.55,133.07 388.71,133.46 388.88,132.36 389.04,132.53 389.21,131.98 389.37,132.93 389.54,132.20 389.70,134.33 389.87,133.31 390.03,132.48 390.19,131.34 390.36,134.37 390.52,133.62 390.69,132.76 390.85,132.39 391.02,132.23 391.18,131.48 391.35,133.48 391.51,131.75 391.67,130.02 391.84,130.55 392.00,128.52 392.17,131.39 392.33,131.30 392.50,132.08 392.66,132.24 392.83,129.31 392.99,130.40 393.16,130.87 393.32,130.65 393.48,129.40 393.65,130.74 393.81,130.55 393.98,131.52 394.14,130.34 394.31,130.32 394.47,130.26 394.64,130.58 394.80,130.41 394.96,130.99 395.13,131.95 395.29,132.06 395.46,132.99 395.62,132.89 395.79,132.55 395.95,130.99 396.12,132.61 396.28,133.18 396.45,130.91 396.61,131.05 396.77,131.15 396.94,130.99 397.10,131.58 397.27,130.87 397.43,131.96 397.60,130.33 397.76,131.19 397.93,130.69 398.09,130.09 398.25,131.84 398.42,130.76 398.58,131.14 398.75,130.23 398.91,131.18 399.08,131.09 399.24,130.39 399.41,128.91 399.57,131.49 399.74,131.50 399.90,131.18 400.06,131.41 400.23,131.49 400.39,131.75 400.56,130.83 400.72,131.90 400.89,132.43 401.05,131.76 401.22,131.61 401.38,134.31 401.54,133.32 401.71,132.64 401.87,132.59 402.04,130.80 402.20,131.98 402.37,133.10 402.53,134.52 402.70,131.66 402.86,132.90 403.03,135.23 403.19,134.19 403.35,134.01 403.52,134.71 403.68,133.60 403.85,133.58 404.01,134.37 404.18,134.51 404.34,132.87 404.51,135.13 404.67,132.32 404.83,133.23 405.00,136.50 405.16,133.42 405.33,134.43 405.49,133.01 405.66,133.61 405.82,133.27 405.99,133.56 406.15,134.47 406.32,135.42 406.48,134.67 406.64,135.26 406.81,133.50 406.97,135.20 407.14,134.43 407.30,135.13 407.47,133.59 407.63,133.75 407.80,135.13 407.96,134.48 408.12,134.05 408.29,133.38 408.45,133.88 408.62,134.39 408.78,134.59 408.95,133.50 409.11,133.68 409.28,134.34 409.44,133.02 409.61,134.78 409.77,133.97 409.93,133.85 410.10,131.90 410.26,132.60 410.43,133.07 410.59,133.46 410.76,133.02 410.92,134.28 411.09,134.07 411.25,133.73 411.41,132.21 411.58,135.16 411.74,133.72 411.91,134.47 412.07,133.39 412.24,133.96 412.40,134.56 412.57,134.16 412.73,134.79 412.90,133.81 413.06,135.67 413.22,132.34 413.39,133.49 413.55,134.80 413.72,133.75 413.88,133.58 414.05,132.44 414.21,134.99 414.38,132.33 414.54,134.39 414.70,134.13 414.87,134.71 415.03,135.21 415.20,133.35 415.36,133.26 415.53,133.68 415.69,132.48 415.86,134.65 416.02,133.61 416.19,134.08 416.35,132.98 416.51,133.95 416.68,133.41 416.84,133.87 417.01,133.00 417.17,134.81 417.34,133.37 417.50,131.74 417.67,134.48 417.83,133.67 417.99,133.16 418.16,136.07 418.32,133.87 418.49,132.77 418.65,133.38 418.82,134.24 418.98,133.71 419.15,134.97 419.31,134.82 419.48,133.22 419.64,133.93 419.80,134.45 419.97,133.54 420.13,133.49 420.30,134.64 420.46,134.27 420.63,132.68 420.79,133.41 420.96,133.52 421.12,133.77 421.28,133.25 421.45,135.02 421.61,133.03 421.78,132.92 421.94,134.03 422.11,131.91 422.27,132.95 422.44,134.37 422.60,132.69 422.77,133.09 422.93,134.75 423.09,134.20 423.26,133.85 423.42,134.00 423.59,133.20 423.75,134.04 423.92,133.59 424.08,135.91 424.25,134.20 424.41,133.43 424.57,133.67 424.74,133.74 424.90,132.49 425.07,132.95 425.23,134.97 425.40,132.41 425.56,133.10 425.73,134.47 425.89,134.87 426.06,132.65 426.22,134.78 426.38,133.16 426.55,134.90 426.71,133.86 426.88,133.14 427.04,133.99 427.21,133.80 427.37,132.60 427.54,135.12 427.70,132.88 427.86,134.16 428.03,132.67 428.19,131.43 428.36,132.00 428.52,132.85 428.69,133.49 428.85,134.39 429.02,132.83 429.18,132.44 429.35,131.53 429.51,132.52 429.67,132.77 429.84,130.43 430.00,133.54 430.17,133.32 430.33,134.28 430.50,131.31 430.66,132.10 430.83,132.00 430.99,130.70 431.15,131.06 431.32,130.86 431.48,132.17 431.65,132.02 431.81,132.80 431.98,131.11 432.14,130.12 432.31,131.77 432.47,131.65 432.64,131.88 432.80,132.37 432.96,130.62 433.13,131.88 433.29,130.16 433.46,131.23 433.62,131.71 433.79,130.95 433.95,131.26 434.12,129.75 434.28,130.46 434.44,131.23 434.61,129.99 434.77,130.35 434.94,133.47 435.10,131.47 435.27,130.51 435.43,130.36 435.60,132.67 435.76,128.83 435.93,131.16 436.09,132.11 436.25,131.07 436.42,132.14 436.58,130.76 436.75,131.78 436.91,131.90 437.08,131.95 437.24,132.14 437.41,132.11 437.57,133.17 437.73,131.98 437.90,131.76 438.06,132.10 438.23,132.15 438.39,131.12 438.56,130.84 438.72,131.41 438.89,132.93 439.05,132.14 439.22,132.42 439.38,135.39 439.54,133.89 439.71,132.76 439.87,132.44 440.04,134.26 440.20,132.40 440.37,134.22 440.53,133.69 440.70,134.42 440.86,132.61 441.02,134.07 441.19,131.73 441.35,133.19 441.52,134.31 441.68,134.00 441.85,131.82 442.01,134.04 442.18,133.86 442.34,133.43 442.51,132.88 442.67,133.28 442.83,133.04 443.00,134.38 443.16,133.97 443.33,134.51 443.49,134.19 443.66,132.50 443.82,133.74 443.99,135.48 444.15,132.68 444.31,133.89 444.48,132.98 444.64,132.90 444.81,133.85 444.97,134.47 445.14,134.34 445.30,134.09 445.47,134.51 445.63,132.29 445.80,134.40 445.96,134.05 446.12,133.55 446.29,133.70 446.45,132.98 446.62,134.72 446.78,133.07 446.95,132.45 447.11,133.72 447.28,133.22 447.44,133.66 447.60,135.03 447.77,133.61 447.93,133.83 448.10,135.68 448.26,132.52 448.43,134.05 448.59,134.74 448.76,135.04 448.92,135.67 449.09,133.17 449.25,134.26 449.41,133.65 449.58,133.34 449.74,133.11 449.91,132.47 450.07,134.02 450.24,134.38 450.40,132.81 450.57,134.39 450.73,133.25 450.89,132.85 451.06,131.46 451.22,134.68 451.39,134.34 451.55,133.45 451.72,133.38 451.88,132.59 452.05,134.16 452.21,133.65 452.38,134.18 452.54,133.86 452.70,132.48 452.87,132.35 453.03,134.06 453.20,132.23 453.36,133.93 453.53,134.48 453.69,132.57 453.86,134.27 454.02,133.72 454.18,134.14 454.35,133.13 454.51,133.66 454.68,134.04 454.84,135.26 455.01,134.30 455.17,134.09 455.34,132.53 455.50,133.94 455.67,133.05 455.83,133.58 455.99,133.87 456.16,134.47 456.32,134.13 456.49,133.77 456.65,133.55 456.82,134.77 456.98,132.80 457.15,133.60 457.31,134.75 457.47,133.37 457.64,134.25 457.80,134.28 457.97,135.22 458.13,134.45 458.30,131.99 458.46,133.41 458.63,133.64 458.79,134.08 458.96,133.66 459.12,134.94 459.28,134.21 459.45,132.14 459.61,132.58 459.78,131.25 459.94,134.56 460.11,132.84 460.27,132.75 460.44,131.37 460.60,132.31 460.76,132.99 460.93,132.13 461.09,132.03 461.26,131.70 461.42,133.95 461.59,131.50 461.75,130.51 461.92,131.22 462.08,131.21 462.25,131.28 462.41,130.96 462.57,129.94 462.74,130.62 462.90,130.99 463.07,129.07 463.23,132.14 463.40,131.68 463.56,128.04 463.73,129.27 463.89,130.44 464.05,130.60 464.22,130.88 464.38,127.08 464.55,127.68 464.71,128.16 464.88,129.14 465.04,127.42 465.21,128.91 465.37,128.90 465.54,129.18 465.70,127.15 465.86,128.70 466.03,128.63 466.19,128.20 466.36,130.02 466.52,128.49 466.69,130.33 466.85,128.35 467.02,130.75 467.18,130.76 467.34,128.34 467.51,129.56 467.67,129.58 467.84,128.31 468.00,130.09 468.17,129.90 468.33,128.42 468.50,129.35 468.66,130.10 468.83,128.98 468.99,128.34 469.15,130.62 469.32,127.87 469.48,129.08 469.65,129.75 469.81,129.27 469.98,126.41 470.14,127.80 470.31,127.83 470.47,127.58 470.63,128.28 470.80,128.01 470.96,127.41 471.13,127.38 471.29,128.01 471.46,128.11 471.62,124.61 471.79,128.84 471.95,125.78 472.12,127.11 472.28,124.41 472.44,125.53 472.61,124.65 472.77,127.13 472.94,126.86 473.10,125.84 473.27,125.59 473.43,126.14 473.60,124.61 473.76,124.89 473.92,124.62 474.09,126.24 474.25,125.22 474.42,123.61 474.58,125.22 474.75,125.19 474.91,125.91 475.08,123.43 475.24,124.20 475.41,125.77 475.57,122.62 475.73,122.17 475.90,122.76 476.06,121.13 476.23,121.27 476.39,120.21 476.56,119.42 476.72,121.03 476.89,119.11 477.05,117.99 477.21,118.62 477.38,118.61 477.54,119.06 477.71,119.86 477.87,121.00 478.04,117.47 478.20,118.99 478.37,117.44 478.53,120.41 478.70,121.30 478.86,120.46 479.02,120.77 479.19,121.32 479.35,121.40 479.52,124.49 479.68,126.55 479.85,123.77 480.01,127.41 480.18,126.09 480.34,125.28 480.50,127.88 480.67,128.56 480.83,128.64 481.00,128.40 481.16,130.74 481.33,129.15 481.49,130.39 481.66,130.70 481.82,129.48 481.99,128.81 482.15,129.16 482.31,130.64 482.48,131.54 482.64,129.68 482.81,130.82 482.97,133.06 483.14,130.06 483.30,132.25 483.47,132.23 483.63,132.70 483.79,130.66 483.96,132.38 484.12,130.83 484.29,133.36 484.45,131.36 484.62,132.52 484.78,131.44 484.95,132.31 485.11,130.77 485.28,132.43 485.44,132.71 485.60,132.13 485.77,133.61 485.93,132.43 486.10,132.79 486.26,132.50 486.43,133.74 486.59,131.36 486.76,131.68 486.92,131.69 487.08,132.43 487.25,132.07 487.41,132.56 487.58,132.03 487.74,131.23 487.91,131.62 488.07,132.06 488.24,129.49 488.40,132.91 488.57,131.06 488.73,131.25 488.89,131.82 489.06,131.35 489.22,130.23 489.39,131.39 489.55,132.93 489.72,132.64 489.88,132.85 490.05,131.22 490.21,131.58 490.37,132.82 490.54,133.28 490.70,131.98 490.87,131.12 491.03,130.29 491.20,133.47 491.36,130.81 491.53,132.69 491.69,133.18 491.86,135.43 492.02,132.68 492.18,132.47 492.35,133.06 492.51,133.18 492.68,134.00 492.84,133.47 493.01,132.21 493.17,131.05 493.34,133.29 493.50,132.46 493.66,134.41 493.83,131.99 493.99,133.41 494.16,132.62 494.32,132.53 494.49,134.86 494.65,133.55 494.82,133.27 494.98,134.14 495.15,132.80 495.31,133.20 495.47,132.99 495.64,135.36 495.80,133.91 495.97,134.20 496.13,134.66 496.30,133.51 496.46,133.56 496.63,132.26 496.79,134.16 496.95,133.98 497.12,133.40 497.28,134.85 497.45,132.20 497.61,134.17 497.78,132.58 497.94,132.80 498.11,133.64 498.27,135.03 498.44,132.79 498.60,132.97 498.76,132.79 498.93,135.66 499.09,134.34 499.26,134.25 499.42,135.73 499.59,134.12 499.75,132.03 499.92,133.46 500.08,132.85 500.24,135.72 500.41,132.66 500.57,134.20 500.74,133.47 500.90,133.54 501.07,133.96 501.23,133.82 501.40,133.34 501.56,132.85 501.73,133.38 501.89,133.03 502.05,133.15 502.22,134.07 502.38,133.83 502.55,134.40 502.71,133.76 502.88,135.69 503.04,133.33 503.21,133.09 503.37,134.90 503.53,133.36 503.70,134.10 503.86,134.86 504.03,133.91 504.19,133.68 504.36,134.86 504.52,134.30 504.69,133.53 504.85,132.94 505.02,133.67 505.18,132.53 505.34,133.23 505.51,133.04 505.67,134.27 505.84,134.69 506.00,133.44 506.17,133.63 506.33,133.04 506.50,132.79 506.66,133.64 506.82,134.52 506.99,134.44 507.15,134.55 507.32,133.78 507.48,131.60 507.65,134.85 507.81,135.21 507.98,134.84 508.14,134.84 508.31,135.01 508.47,136.42 508.63,134.33 508.80,135.43 508.96,134.77 509.13,134.66 509.29,133.94 509.46,133.76 509.62,133.06 509.79,134.58 509.95,133.79 510.11,133.00 510.28,133.39 510.44,133.02 510.61,135.49 510.77,133.85 510.94,134.17 511.10,133.00 511.27,133.16 511.43,135.01 511.60,133.87 511.76,134.27 511.92,135.71 512.09,135.93 512.25,134.69 512.42,134.52 512.58,134.29 512.75,133.83 512.91,135.88 513.08,133.01 513.24,134.01 513.40,132.38 513.57,132.97 513.73,134.45 513.90,134.50 514.06,134.39 514.23,133.81 514.39,133.47 514.56,133.62 514.72,133.76 514.89,135.07 515.05,135.39 515.21,134.49 515.38,133.62 515.54,133.27 515.71,134.37 515.87,133.90 516.04,132.49 516.20,135.32 516.37,134.10 516.53,133.82 516.69,133.34 516.86,133.33 517.02,134.90 517.19,133.27 517.35,134.19 517.52,134.67 517.68,135.74 517.85,134.65 518.01,134.08 518.18,133.72 518.34,134.87 518.50,135.00 518.67,133.74 518.83,134.64 519.00,133.99 519.16,132.68 519.33,133.22 519.49,134.83 519.66,135.40 519.82,134.72 519.98,133.94 520.15,133.48 520.31,134.60 520.48,134.41 520.64,132.69 520.81,134.70 520.97,133.50 521.14,134.72 521.30,134.60 521.47,134.77 521.63,135.07 521.79,134.75 521.96,133.20 522.12,133.22 522.29,135.05 522.45,134.55 522.62,132.74 522.78,132.35 522.95,134.92 523.11,136.10 523.27,134.86 523.44,133.92 523.60,134.37 523.77,131.72 523.93,133.25 524.10,135.03 524.26,134.90 524.43,132.25 524.59,135.18 524.76,134.61 524.92,134.96 525.08,133.96 525.25,134.14 525.41,133.18 525.58,134.42 525.74,134.93 525.91,133.30 526.07,134.46 526.24,133.67 526.40,135.06 526.56,135.01 526.73,132.05 526.89,134.54 527.06,135.04 527.22,133.64 527.39,133.95 527.55,134.01 527.72,133.13 527.88,134.04 528.05,135.52 528.21,134.56 528.37,135.49 528.54,135.02 528.70,135.21 528.87,134.25 529.03,134.83 529.20,135.93 529.36,135.45 529.53,134.43 529.69,133.53 529.85,133.33 530.02,134.36 530.18,134.53 530.35,132.52 530.51,134.34 530.68,134.45 530.84,134.42 531.01,133.66 531.17,136.19 531.34,134.92 531.50,132.93"/>
<g stroke="#4383ea" stroke-width="1.15" fill="none"><line x1="67.39" y1="156.40" x2="67.39" y2="153.50"/><line x1="78.58" y1="156.40" x2="78.58" y2="155.40"/><line x1="80.66" y1="156.40" x2="80.66" y2="155.40"/><line x1="87.19" y1="156.40" x2="87.19" y2="147.70"/><line x1="97.22" y1="156.40" x2="97.22" y2="152.00"/><line x1="109.61" y1="156.40" x2="109.61" y2="147.70"/><line x1="142.29" y1="156.40" x2="142.29" y2="152.40"/><line x1="149.31" y1="156.40" x2="149.31" y2="103.40"/><line x1="152.93" y1="156.40" x2="152.93" y2="138.40"/><line x1="154.69" y1="156.40" x2="154.69" y2="151.00"/><line x1="160.28" y1="156.40" x2="160.28" y2="48.40"/><line x1="170.31" y1="156.40" x2="170.31" y2="32.90"/><line x1="175.80" y1="156.40" x2="175.80" y2="145.40"/><line x1="177.39" y1="156.40" x2="177.39" y2="140.40"/><line x1="179.47" y1="156.40" x2="179.47" y2="140.90"/><line x1="180.84" y1="156.40" x2="180.84" y2="152.40"/><line x1="186.43" y1="156.40" x2="186.43" y2="103.40"/><line x1="194.11" y1="156.40" x2="194.11" y2="148.40"/><line x1="198.66" y1="156.40" x2="198.66" y2="155.40"/><line x1="204.69" y1="156.40" x2="204.69" y2="122.40"/><line x1="216.32" y1="156.40" x2="216.32" y2="134.40"/><line x1="229.37" y1="156.40" x2="229.37" y2="154.40"/><line x1="239.57" y1="156.40" x2="239.57" y2="152.40"/><line x1="259.53" y1="156.40" x2="259.53" y2="150.90"/><line x1="261.17" y1="156.40" x2="261.17" y2="154.40"/><line x1="274.55" y1="156.40" x2="274.55" y2="154.40"/><line x1="277.46" y1="156.40" x2="277.46" y2="150.10"/><line x1="279.16" y1="156.40" x2="279.16" y2="148.70"/><line x1="282.56" y1="156.40" x2="282.56" y2="155.40"/><line x1="285.85" y1="156.40" x2="285.85" y2="117.40"/><line x1="286.89" y1="156.40" x2="286.89" y2="135.40"/><line x1="289.08" y1="156.40" x2="289.08" y2="149.40"/><line x1="292.43" y1="156.40" x2="292.43" y2="133.40"/><line x1="294.89" y1="156.40" x2="294.89" y2="103.40"/><line x1="296.81" y1="156.40" x2="296.81" y2="152.40"/><line x1="298.46" y1="156.40" x2="298.46" y2="146.40"/><line x1="308.88" y1="156.40" x2="308.88" y2="154.90"/><line x1="314.09" y1="156.40" x2="314.09" y2="150.90"/><line x1="329.49" y1="156.40" x2="329.49" y2="49.40"/><line x1="333.88" y1="156.40" x2="333.88" y2="152.40"/><line x1="337.94" y1="156.40" x2="337.94" y2="155.40"/><line x1="344.19" y1="156.40" x2="344.19" y2="153.40"/><line x1="345.61" y1="156.40" x2="345.61" y2="153.40"/><line x1="354.55" y1="156.40" x2="354.55" y2="144.60"/><line x1="357.29" y1="156.40" x2="357.29" y2="153.40"/><line x1="361.52" y1="156.40" x2="361.52" y2="155.40"/><line x1="378.19" y1="156.40" x2="378.19" y2="141.90"/><line x1="382.35" y1="156.40" x2="382.35" y2="143.10"/><line x1="384.27" y1="156.40" x2="384.27" y2="153.40"/><line x1="391.68" y1="156.40" x2="391.68" y2="151.40"/><line x1="393.32" y1="156.40" x2="393.32" y2="153.40"/><line x1="397.71" y1="156.40" x2="397.71" y2="152.40"/><line x1="399.08" y1="156.40" x2="399.08" y2="154.40"/><line x1="403.74" y1="156.40" x2="403.74" y2="153.70"/><line x1="409.22" y1="156.40" x2="409.22" y2="153.90"/><line x1="416.90" y1="156.40" x2="416.90" y2="154.90"/><line x1="421.56" y1="156.40" x2="421.56" y2="154.90"/><line x1="433.18" y1="156.40" x2="433.18" y2="150.40"/><line x1="434.44" y1="156.40" x2="434.44" y2="153.40"/><line x1="442.67" y1="156.40" x2="442.67" y2="155.40"/><line x1="464.38" y1="156.40" x2="464.38" y2="150.70"/><line x1="465.97" y1="156.40" x2="465.97" y2="153.40"/><line x1="469.81" y1="156.40" x2="469.81" y2="150.70"/><line x1="471.57" y1="156.40" x2="471.57" y2="149.20"/><line x1="473.38" y1="156.40" x2="473.38" y2="149.90"/><line x1="475.57" y1="156.40" x2="475.57" y2="147.70"/></g>
<rect x="38.0" y="8.5" width="493.5" height="147.9" fill="none" stroke="#000" stroke-width="1.4"/><g stroke="#000" stroke-width="1.4"><line x1="38.00" y1="156.4" x2="38.00" y2="160.30"/><line x1="92.83" y1="156.4" x2="92.83" y2="163.80"/><line x1="147.67" y1="156.4" x2="147.67" y2="160.30"/><line x1="202.50" y1="156.4" x2="202.50" y2="163.80"/><line x1="257.33" y1="156.4" x2="257.33" y2="160.30"/><line x1="312.17" y1="156.4" x2="312.17" y2="163.80"/><line x1="367.00" y1="156.4" x2="367.00" y2="160.30"/><line x1="421.83" y1="156.4" x2="421.83" y2="163.80"/><line x1="476.67" y1="156.4" x2="476.67" y2="160.30"/><line x1="531.50" y1="156.4" x2="531.50" y2="163.80"/></g>
<g font-size="19.3px" fill="#000" stroke="#000" stroke-width="0.25"><text x="92.83" y="184.3" text-anchor="middle">20</text><text x="202.50" y="184.3" text-anchor="middle">40</text><text x="312.17" y="184.3" text-anchor="middle">60</text><text x="421.83" y="184.3" text-anchor="middle">80</text><text x="531.50" y="184.3" text-anchor="middle">100</text></g>
<g font-size="8px" stroke-width="0.2"><text transform="translate(150.90,30.10) scale(1,1.13)" text-anchor="middle" fill="#3b7de0" stroke="#3b7de0">110</text><text transform="translate(160.30,45.50) scale(1,1.13)" text-anchor="middle" fill="#3b7de0" stroke="#3b7de0">107</text><text transform="translate(171.30,23.80) scale(1,1.13)" text-anchor="middle" fill="#3b7de0" stroke="#3b7de0">114</text><text transform="translate(180.30,88.60) scale(1,1.13)" text-anchor="middle" fill="#3b7de0" stroke="#3b7de0">200</text><text transform="translate(188.00,70.50) scale(1,1.13)" text-anchor="middle" fill="#3b7de0" stroke="#3b7de0">203</text><text transform="translate(205.90,97.70) scale(1,1.13)" text-anchor="middle" fill="#3b7de0" stroke="#3b7de0">205</text><text transform="translate(217.30,108.30) scale(1,1.13)" text-anchor="middle" fill="#3b7de0" stroke="#3b7de0">206</text><text transform="translate(276.90,113.40) scale(1,1.13)" text-anchor="middle" fill="#3b7de0" stroke="#3b7de0">300</text><text transform="translate(286.10,90.10) scale(1,1.13)" text-anchor="middle" fill="#3b7de0" stroke="#3b7de0">217</text><text transform="translate(295.00,82.10) scale(1,1.13)" text-anchor="middle" fill="#3b7de0" stroke="#3b7de0">304</text><text transform="translate(330.50,40.80) scale(1,1.13)" text-anchor="middle" fill="#3b7de0" stroke="#3b7de0">220</text></g>
<text x="43.5" y="31.0" font-size="19.2px" fill="#000" stroke="#000" stroke-width="0.25">SHF</text>
<text transform="translate(22.0,83.3) rotate(-90)" text-anchor="middle" font-size="19px" fill="#000" stroke="#000" stroke-width="0.25">Intensity</text>
<line x1="379" y1="21.9" x2="407.1" y2="21.9" stroke="#fa640a" stroke-width="1.2"/>
<text x="410.6" y="26.2" font-size="12px" fill="#000">SHF</text>
<line x1="380.9" y1="32.5" x2="380.9" y2="43.7" stroke="#4383ea" stroke-width="1.2"/>
<text x="389.0" y="41.3" font-size="12.3px" fill="#000">SrFe<tspan font-size="8.1px" dy="3.5">12</tspan><tspan dy="-3.5">O</tspan><tspan font-size="8.1px" dy="3.5">19</tspan><tspan dy="-3.5"> PDF [84-1531]</tspan></text>
<polyline fill="none" stroke="#2ea866" stroke-width="1.8" stroke-linejoin="round" points="38.00,312.25 38.16,311.76 38.33,312.96 38.49,313.73 38.66,314.54 38.82,313.52 38.99,312.89 39.15,312.70 39.32,314.38 39.48,315.38 39.64,314.00 39.81,312.47 39.97,312.82 40.14,315.57 40.30,314.16 40.47,312.18 40.63,313.97 40.80,312.89 40.96,313.51 41.13,313.71 41.29,313.53 41.45,314.92 41.62,314.32 41.78,313.82 41.95,314.93 42.11,315.42 42.28,312.87 42.44,314.38 42.61,313.67 42.77,314.57 42.93,313.44 43.10,314.88 43.26,314.86 43.43,314.63 43.59,313.90 43.76,314.63 43.92,313.95 44.09,313.71 44.25,315.43 44.42,314.07 44.58,316.52 44.74,316.08 44.91,313.27 45.07,315.71 45.24,314.30 45.40,315.54 45.57,315.60 45.73,313.50 45.90,315.39 46.06,315.41 46.22,316.74 46.39,314.52 46.55,316.58 46.72,314.69 46.88,315.54 47.05,315.04 47.21,317.49 47.38,316.61 47.54,318.61 47.71,316.76 47.87,317.01 48.03,317.05 48.20,315.56 48.36,316.16 48.53,317.70 48.69,315.89 48.86,316.55 49.02,316.36 49.19,317.06 49.35,316.07 49.51,316.33 49.68,316.78 49.84,316.67 50.01,315.68 50.17,317.58 50.34,315.29 50.50,315.43 50.67,315.38 50.83,317.78 51.00,316.42 51.16,315.80 51.32,315.66 51.49,317.34 51.65,315.81 51.82,315.61 51.98,317.63 52.15,315.75 52.31,316.71 52.48,317.07 52.64,316.64 52.80,317.08 52.97,318.58 53.13,316.65 53.30,315.90 53.46,315.31 53.63,317.07 53.79,316.94 53.96,317.62 54.12,316.88 54.29,316.89 54.45,316.66 54.61,316.90 54.78,317.64 54.94,317.10 55.11,317.63 55.27,319.56 55.44,318.08 55.60,315.94 55.77,319.46 55.93,318.02 56.09,316.68 56.26,318.66 56.42,317.75 56.59,317.10 56.75,317.11 56.92,316.75 57.08,317.87 57.25,318.97 57.41,317.52 57.58,318.34 57.74,319.89 57.90,316.65 58.07,318.23 58.23,317.66 58.40,316.88 58.56,316.94 58.73,318.03 58.89,318.52 59.06,317.52 59.22,318.16 59.38,318.89 59.55,318.46 59.71,319.09 59.88,318.68 60.04,318.72 60.21,320.16 60.37,318.91 60.54,318.40 60.70,319.04 60.87,317.33 61.03,317.97 61.19,319.18 61.36,319.03 61.52,320.01 61.69,318.41 61.85,316.87 62.02,320.49 62.18,319.60 62.35,317.35 62.51,319.94 62.67,318.53 62.84,316.60 63.00,318.09 63.17,318.01 63.33,320.25 63.50,317.74 63.66,318.33 63.83,318.32 63.99,318.23 64.16,317.68 64.32,318.89 64.48,319.81 64.65,319.35 64.81,317.72 64.98,317.50 65.14,318.86 65.31,318.00 65.47,318.09 65.64,317.00 65.80,320.85 65.96,319.77 66.13,317.78 66.29,319.79 66.46,320.26 66.62,316.32 66.79,318.29 66.95,318.47 67.12,319.58 67.28,318.78 67.45,318.67 67.61,318.87 67.77,320.90 67.94,321.24 68.10,318.41 68.27,317.99 68.43,321.84 68.60,317.96 68.76,318.40 68.93,319.06 69.09,319.54 69.25,320.13 69.42,319.46 69.58,318.13 69.75,319.60 69.91,319.34 70.08,321.08 70.24,319.08 70.41,317.69 70.57,318.00 70.74,320.66 70.90,318.56 71.06,316.91 71.23,318.53 71.39,319.15 71.56,320.42 71.72,318.09 71.89,319.89 72.05,320.03 72.22,318.45 72.38,319.00 72.54,321.08 72.71,321.04 72.87,320.13 73.04,319.57 73.20,320.44 73.37,319.08 73.53,319.14 73.70,318.33 73.86,319.25 74.03,319.16 74.19,322.21 74.35,319.05 74.52,320.61 74.68,320.67 74.85,319.07 75.01,320.51 75.18,316.95 75.34,319.37 75.51,320.19 75.67,316.71 75.83,318.03 76.00,320.40 76.16,318.99 76.33,318.09 76.49,318.86 76.66,318.68 76.82,320.03 76.99,319.73 77.15,318.94 77.32,318.52 77.48,319.17 77.64,320.64 77.81,319.58 77.97,319.87 78.14,319.01 78.30,317.76 78.47,318.37 78.63,319.81 78.80,319.19 78.96,318.07 79.12,317.26 79.29,319.10 79.45,318.57 79.62,318.50 79.78,318.47 79.95,319.08 80.11,319.03 80.28,319.69 80.44,319.58 80.61,319.94 80.77,319.27 80.93,317.89 81.10,318.09 81.26,318.59 81.43,317.55 81.59,318.38 81.76,318.92 81.92,316.53 82.09,315.25 82.25,318.48 82.41,316.93 82.58,317.54 82.74,314.94 82.91,318.35 83.07,316.96 83.24,315.70 83.40,315.20 83.57,315.54 83.73,314.97 83.90,314.60 84.06,313.34 84.22,316.07 84.39,314.25 84.55,314.20 84.72,314.05 84.88,310.79 85.05,314.32 85.21,313.12 85.38,313.10 85.54,313.51 85.70,312.17 85.87,314.51 86.03,312.60 86.20,312.42 86.36,312.58 86.53,314.02 86.69,314.92 86.86,313.42 87.02,312.47 87.19,315.90 87.35,313.48 87.51,316.50 87.68,315.20 87.84,314.65 88.01,314.96 88.17,316.52 88.34,317.26 88.50,316.19 88.67,317.76 88.83,319.30 88.99,316.82 89.16,315.93 89.32,316.23 89.49,316.03 89.65,317.06 89.82,317.13 89.98,316.60 90.15,318.83 90.31,315.44 90.48,317.01 90.64,320.83 90.80,319.85 90.97,319.37 91.13,319.38 91.30,320.90 91.46,319.61 91.63,319.17 91.79,317.80 91.96,319.11 92.12,318.44 92.28,318.51 92.45,318.54 92.61,319.30 92.78,319.01 92.94,320.34 93.11,317.97 93.27,319.24 93.44,321.45 93.60,319.48 93.77,320.74 93.93,320.67 94.09,320.87 94.26,320.23 94.42,317.92 94.59,319.11 94.75,318.97 94.92,317.68 95.08,318.83 95.25,317.95 95.41,317.46 95.57,319.48 95.74,319.17 95.90,318.43 96.07,318.11 96.23,318.52 96.40,318.65 96.56,318.60 96.73,318.96 96.89,318.50 97.06,319.39 97.22,319.52 97.38,319.32 97.55,318.18 97.71,318.23 97.88,319.40 98.04,318.72 98.21,318.91 98.37,316.23 98.54,316.04 98.70,319.42 98.86,319.46 99.03,320.67 99.19,319.97 99.36,319.47 99.52,319.29 99.69,317.76 99.85,320.33 100.02,318.75 100.18,320.00 100.35,319.71 100.51,319.83 100.67,320.54 100.84,319.07 101.00,319.21 101.17,318.74 101.33,319.28 101.50,321.51 101.66,319.34 101.83,321.03 101.99,320.66 102.15,320.57 102.32,320.66 102.48,318.72 102.65,320.22 102.81,321.53 102.98,319.08 103.14,319.78 103.31,319.08 103.47,320.17 103.64,318.66 103.80,321.55 103.96,319.40 104.13,318.13 104.29,321.71 104.46,320.82 104.62,320.31 104.79,320.30 104.95,319.32 105.12,319.44 105.28,320.43 105.44,320.61 105.61,320.59 105.77,319.77 105.94,318.99 106.10,319.24 106.27,320.61 106.43,320.92 106.60,318.91 106.76,318.70 106.93,320.53 107.09,319.89 107.25,319.79 107.42,317.49 107.58,318.45 107.75,318.22 107.91,318.94 108.08,316.74 108.24,319.99 108.41,318.82 108.57,318.90 108.73,317.00 108.90,318.25 109.06,319.74 109.23,316.39 109.39,318.49 109.56,318.91 109.72,317.31 109.89,319.03 110.05,317.74 110.22,319.54 110.38,318.77 110.54,318.47 110.71,320.54 110.87,319.26 111.04,319.87 111.20,317.12 111.37,317.80 111.53,319.55 111.70,319.70 111.86,318.70 112.02,319.71 112.19,317.74 112.35,319.23 112.52,317.80 112.68,319.52 112.85,318.67 113.01,318.56 113.18,319.39 113.34,321.38 113.51,318.33 113.67,318.83 113.83,320.70 114.00,319.12 114.16,321.54 114.33,319.89 114.49,319.78 114.66,320.10 114.82,321.63 114.99,320.47 115.15,320.34 115.31,320.08 115.48,318.13 115.64,318.88 115.81,321.45 115.97,320.75 116.14,320.42 116.30,320.57 116.47,319.30 116.63,320.26 116.80,318.93 116.96,320.33 117.12,319.14 117.29,319.68 117.45,320.40 117.62,319.57 117.78,320.62 117.95,320.41 118.11,320.31 118.28,321.35 118.44,318.33 118.60,318.20 118.77,320.59 118.93,320.94 119.10,322.09 119.26,320.74 119.43,320.81 119.59,318.96 119.76,320.73 119.92,320.64 120.09,318.77 120.25,318.94 120.41,319.79 120.58,320.22 120.74,316.72 120.91,319.97 121.07,320.15 121.24,319.70 121.40,320.18 121.57,320.38 121.73,318.79 121.89,320.33 122.06,319.60 122.22,318.85 122.39,320.09 122.55,321.47 122.72,318.28 122.88,318.06 123.05,318.06 123.21,321.98 123.38,319.57 123.54,319.77 123.70,318.98 123.87,318.80 124.03,317.62 124.20,320.00 124.36,320.09 124.53,317.66 124.69,318.66 124.86,318.98 125.02,319.75 125.18,320.04 125.35,320.99 125.51,321.24 125.68,320.91 125.84,321.20 126.01,318.47 126.17,319.13 126.34,320.96 126.50,320.03 126.67,319.73 126.83,317.54 126.99,317.67 127.16,320.48 127.32,320.04 127.49,319.34 127.65,319.20 127.82,317.76 127.98,320.04 128.15,320.75 128.31,321.40 128.47,319.66 128.64,319.37 128.80,318.38 128.97,320.91 129.13,321.42 129.30,318.88 129.46,319.85 129.63,319.62 129.79,318.88 129.96,316.76 130.12,319.08 130.28,320.14 130.45,317.88 130.61,318.52 130.78,315.83 130.94,320.83 131.11,319.95 131.27,319.44 131.44,319.07 131.60,318.65 131.76,319.25 131.93,318.98 132.09,319.03 132.26,319.25 132.42,319.41 132.59,320.96 132.75,317.63 132.92,319.50 133.08,318.50 133.25,317.91 133.41,316.53 133.57,319.81 133.74,318.01 133.90,318.25 134.07,319.58 134.23,317.83 134.40,319.04 134.56,318.90 134.73,319.85 134.89,320.06 135.05,317.93 135.22,319.90 135.38,318.74 135.55,318.95 135.71,318.54 135.88,319.62 136.04,317.36 136.21,318.98 136.37,319.97 136.54,318.29 136.70,320.86 136.86,317.70 137.03,318.73 137.19,317.90 137.36,317.70 137.52,317.08 137.69,317.69 137.85,318.19 138.02,317.28 138.18,319.15 138.34,319.82 138.51,316.26 138.67,318.91 138.84,318.10 139.00,318.09 139.17,320.58 139.33,319.05 139.50,317.96 139.66,317.69 139.83,314.87 139.99,318.21 140.15,316.32 140.32,317.30 140.48,317.10 140.65,318.00 140.81,319.16 140.98,317.78 141.14,318.00 141.31,316.05 141.47,316.73 141.63,316.96 141.80,314.10 141.96,318.19 142.13,314.62 142.29,313.73 142.46,317.15 142.62,317.56 142.79,313.81 142.95,313.70 143.12,318.19 143.28,314.14 143.44,311.18 143.61,312.68 143.77,315.80 143.94,313.76 144.10,313.58 144.27,313.90 144.43,312.84 144.60,311.13 144.76,309.03 144.92,311.43 145.09,308.85 145.25,309.88 145.42,311.97 145.58,309.76 145.75,308.54 145.91,307.96 146.08,308.31 146.24,307.91 146.41,303.78 146.57,305.20 146.73,306.62 146.90,304.05 147.06,300.35 147.23,299.00 147.39,294.91 147.56,294.97 147.72,296.78 147.89,290.79 148.05,285.61 148.21,281.60 148.38,276.97 148.54,270.11 148.71,261.18 148.87,250.30 149.04,243.26 149.20,235.55 149.37,221.62 149.53,218.66 149.70,226.69 149.86,226.69 150.02,239.50 150.19,250.70 150.35,261.68 150.52,268.80 150.68,274.17 150.85,282.07 151.01,283.37 151.18,285.79 151.34,288.07 151.50,295.30 151.67,292.63 151.83,297.81 152.00,299.25 152.16,300.31 152.33,299.31 152.49,299.18 152.66,300.56 152.82,299.67 152.99,298.66 153.15,302.84 153.31,299.28 153.48,303.57 153.64,301.29 153.81,299.47 153.97,300.68 154.14,301.71 154.30,297.04 154.47,297.44 154.63,296.87 154.79,298.57 154.96,298.62 155.12,297.62 155.29,295.96 155.45,295.96 155.62,298.59 155.78,298.13 155.95,296.06 156.11,293.17 156.28,296.21 156.44,295.20 156.60,294.71 156.77,296.89 156.93,294.74 157.10,290.89 157.26,290.25 157.43,293.85 157.59,290.87 157.76,291.27 157.92,288.42 158.08,285.72 158.25,287.03 158.41,288.34 158.58,284.60 158.74,280.22 158.91,280.38 159.07,278.44 159.24,278.27 159.40,278.50 159.57,279.02 159.73,273.68 159.89,270.77 160.06,270.56 160.22,269.25 160.39,267.27 160.55,267.57 160.72,267.06 160.88,264.17 161.05,268.31 161.21,266.65 161.37,265.97 161.54,270.34 161.70,269.37 161.87,275.78 162.03,274.54 162.20,275.35 162.36,275.35 162.53,277.92 162.69,282.36 162.86,281.02 163.02,285.71 163.18,281.78 163.35,287.95 163.51,290.69 163.68,291.28 163.84,292.06 164.01,295.23 164.17,293.14 164.34,294.11 164.50,297.12 164.66,300.01 164.83,299.64 164.99,299.48 165.16,301.12 165.32,302.11 165.49,300.10 165.65,298.28 165.82,301.74 165.98,301.58 166.15,303.53 166.31,303.05 166.47,304.00 166.64,306.36 166.80,306.19 166.97,306.29 167.13,309.04 167.30,306.05 167.46,306.26 167.63,308.71 167.79,305.06 167.95,304.03 168.12,308.02 168.28,305.92 168.45,305.45 168.61,304.34 168.78,303.27 168.94,299.09 169.11,297.38 169.27,292.68 169.44,291.58 169.60,287.94 169.76,282.27 169.93,279.87 170.09,279.89 170.26,265.42 170.42,264.63 170.59,259.62 170.75,254.88 170.92,245.31 171.08,246.49 171.24,241.67 171.41,237.00 171.57,234.84 171.74,235.95 171.90,238.38 172.07,239.72 172.23,245.94 172.40,241.89 172.56,248.27 172.73,249.76 172.89,257.31 173.05,260.23 173.22,262.96 173.38,265.56 173.55,270.74 173.71,276.35 173.88,281.79 174.04,282.58 174.21,280.25 174.37,282.82 174.53,284.42 174.70,284.11 174.86,284.00 175.03,284.49 175.19,281.97 175.36,278.31 175.52,273.50 175.69,274.35 175.85,268.52 176.02,268.72 176.18,266.35 176.34,258.63 176.51,257.45 176.67,252.66 176.84,254.01 177.00,245.70 177.17,234.73 177.33,236.61 177.50,232.27 177.66,226.59 177.82,222.70 177.99,222.94 178.15,221.34 178.32,219.81 178.48,215.63 178.65,219.01 178.81,217.17 178.98,220.28 179.14,226.57 179.31,229.21 179.47,235.39 179.63,247.77 179.80,246.90 179.96,247.81 180.13,249.04 180.29,256.59 180.46,259.17 180.62,261.19 180.79,271.36 180.95,271.85 181.11,276.80 181.28,285.04 181.44,281.57 181.61,283.51 181.77,286.01 181.94,286.67 182.10,287.30 182.27,289.99 182.43,293.85 182.60,292.49 182.76,291.62 182.92,292.83 183.09,294.07 183.25,296.61 183.42,298.03 183.58,298.52 183.75,300.11 183.91,298.02 184.08,299.93 184.24,299.10 184.40,299.64 184.57,295.08 184.73,299.92 184.90,294.56 185.06,294.49 185.23,296.82 185.39,293.51 185.56,295.90 185.72,291.16 185.89,286.76 186.05,286.53 186.21,282.62 186.38,283.60 186.54,280.71 186.71,275.83 186.87,270.70 187.04,269.95 187.20,271.36 187.37,267.58 187.53,269.24 187.69,275.47 187.86,278.42 188.02,279.92 188.19,283.46 188.35,283.67 188.52,292.83 188.68,293.28 188.85,293.55 189.01,296.38 189.18,298.79 189.34,304.72 189.50,304.57 189.67,302.75 189.83,308.76 190.00,308.95 190.16,306.32 190.33,304.83 190.49,310.69 190.66,309.08 190.82,310.26 190.98,310.18 191.15,313.00 191.31,313.61 191.48,312.97 191.64,311.90 191.81,312.62 191.97,313.21 192.14,310.37 192.30,314.15 192.47,312.08 192.63,312.83 192.79,312.63 192.96,313.59 193.12,313.75 193.29,315.21 193.45,311.75 193.62,310.98 193.78,312.36 193.95,311.33 194.11,313.41 194.27,311.28 194.44,312.67 194.60,313.91 194.77,314.21 194.93,313.38 195.10,315.22 195.26,315.34 195.43,311.81 195.59,314.76 195.76,314.85 195.92,314.57 196.08,314.46 196.25,315.60 196.41,316.30 196.58,316.42 196.74,317.97 196.91,317.72 197.07,316.01 197.24,315.98 197.40,318.03 197.56,316.33 197.73,317.45 197.89,317.90 198.06,318.63 198.22,318.08 198.39,319.21 198.55,317.02 198.72,318.36 198.88,316.82 199.05,317.80 199.21,317.72 199.37,316.46 199.54,314.45 199.70,318.55 199.87,317.78 200.03,317.41 200.20,316.28 200.36,316.55 200.53,317.29 200.69,316.53 200.85,317.63 201.02,316.03 201.18,314.49 201.35,315.83 201.51,313.77 201.68,314.28 201.84,311.02 202.01,312.22 202.17,312.67 202.34,310.20 202.50,310.17 202.66,310.11 202.83,308.38 202.99,309.89 203.16,305.82 203.32,304.86 203.49,303.81 203.65,299.88 203.82,299.51 203.98,301.87 204.14,299.54 204.31,301.58 204.47,298.39 204.64,297.62 204.80,299.19 204.97,297.55 205.13,299.65 205.30,295.01 205.46,297.71 205.63,298.38 205.79,298.56 205.95,300.11 206.12,300.54 206.28,299.64 206.45,299.51 206.61,302.94 206.78,302.41 206.94,304.85 207.11,306.47 207.27,305.72 207.43,305.08 207.60,307.05 207.76,309.52 207.93,308.95 208.09,311.79 208.26,310.99 208.42,311.84 208.59,311.48 208.75,312.77 208.92,314.85 209.08,313.43 209.24,313.83 209.41,313.59 209.57,315.81 209.74,313.14 209.90,314.38 210.07,316.43 210.23,317.13 210.40,315.11 210.56,316.57 210.72,312.87 210.89,316.19 211.05,315.51 211.22,313.47 211.38,312.61 211.55,314.01 211.71,314.77 211.88,314.66 212.04,314.07 212.21,314.63 212.37,314.22 212.53,311.13 212.70,312.05 212.86,311.45 213.03,313.07 213.19,310.52 213.36,312.05 213.52,310.22 213.69,312.80 213.85,308.76 214.01,308.14 214.18,307.23 214.34,306.82 214.51,309.44 214.67,304.10 214.84,302.58 215.00,302.64 215.17,303.01 215.33,299.25 215.50,301.09 215.66,299.92 215.82,297.19 215.99,295.86 216.15,293.73 216.32,293.48 216.48,291.39 216.65,294.05 216.81,293.79 216.98,289.31 217.14,288.97 217.30,284.75 217.47,286.86 217.63,288.19 217.80,287.91 217.96,287.66 218.13,289.27 218.29,288.22 218.46,287.87 218.62,292.36 218.79,286.59 218.95,288.99 219.11,290.82 219.28,291.96 219.44,293.05 219.61,295.20 219.77,295.54 219.94,297.85 220.10,300.10 220.27,300.29 220.43,301.56 220.59,300.91 220.76,301.64 220.92,303.95 221.09,306.74 221.25,306.78 221.42,308.65 221.58,309.28 221.75,310.19 221.91,308.13 222.08,311.66 222.24,311.58 222.40,313.93 222.57,312.44 222.73,312.57 222.90,312.43 223.06,313.24 223.23,311.29 223.39,313.47 223.56,314.09 223.72,315.70 223.88,313.93 224.05,315.19 224.21,317.53 224.38,314.86 224.54,316.76 224.71,315.29 224.87,316.00 225.04,316.85 225.20,317.52 225.37,316.03 225.53,315.55 225.69,318.68 225.86,317.24 226.02,318.07 226.19,318.32 226.35,318.24 226.52,317.16 226.68,317.40 226.85,315.85 227.01,317.93 227.17,317.27 227.34,317.86 227.50,320.09 227.67,318.81 227.83,318.15 228.00,316.61 228.16,319.04 228.33,319.99 228.49,317.40 228.66,318.86 228.82,317.85 228.98,318.31 229.15,318.12 229.31,316.77 229.48,318.04 229.64,316.85 229.81,320.23 229.97,319.88 230.14,318.81 230.30,319.10 230.46,318.89 230.63,319.08 230.79,319.10 230.96,318.65 231.12,318.76 231.29,317.49 231.45,317.89 231.62,318.35 231.78,319.26 231.95,318.65 232.11,321.16 232.27,318.88 232.44,318.72 232.60,319.59 232.77,320.26 232.93,321.17 233.10,320.22 233.26,318.53 233.43,319.00 233.59,320.34 233.75,319.48 233.92,320.08 234.08,319.13 234.25,320.96 234.41,320.79 234.58,320.44 234.74,319.39 234.91,317.47 235.07,317.76 235.24,319.57 235.40,319.92 235.56,316.05 235.73,318.69 235.89,320.45 236.06,320.23 236.22,318.64 236.39,319.86 236.55,319.19 236.72,318.91 236.88,320.35 237.04,320.36 237.21,318.54 237.37,318.07 237.54,317.66 237.70,317.52 237.87,320.50 238.03,321.08 238.20,319.25 238.36,320.15 238.53,318.24 238.69,318.90 238.85,319.96 239.02,319.29 239.18,318.89 239.35,317.10 239.51,317.32 239.68,318.44 239.84,318.28 240.01,318.80 240.17,318.18 240.33,318.64 240.50,318.94 240.66,319.44 240.83,318.95 240.99,318.28 241.16,318.58 241.32,319.88 241.49,318.68 241.65,317.87 241.82,317.84 241.98,319.26 242.14,319.58 242.31,320.32 242.47,318.66 242.64,320.53 242.80,318.68 242.97,318.83 243.13,318.49 243.30,319.70 243.46,320.29 243.62,319.15 243.79,318.67 243.95,317.57 244.12,319.42 244.28,318.92 244.45,319.09 244.61,318.66 244.78,318.42 244.94,318.92 245.11,319.89 245.27,320.45 245.43,319.44 245.60,319.82 245.76,319.28 245.93,319.38 246.09,318.07 246.26,320.49 246.42,320.20 246.59,321.13 246.75,318.94 246.91,319.75 247.08,318.64 247.24,319.89 247.41,319.52 247.57,320.38 247.74,319.52 247.90,320.36 248.07,319.17 248.23,320.32 248.40,319.38 248.56,319.24 248.72,319.80 248.89,320.10 249.05,318.23 249.22,318.12 249.38,319.92 249.55,319.66 249.71,317.57 249.88,317.91 250.04,318.90 250.20,320.04 250.37,319.92 250.53,320.76 250.70,320.92 250.86,322.18 251.03,318.14 251.19,319.61 251.36,320.77 251.52,318.29 251.69,318.11 251.85,319.80 252.01,320.73 252.18,320.88 252.34,317.63 252.51,318.21 252.67,319.37 252.84,318.88 253.00,319.76 253.17,319.52 253.33,321.23 253.49,319.24 253.66,319.47 253.82,319.31 253.99,320.37 254.15,317.94 254.32,319.50 254.48,318.20 254.65,317.45 254.81,320.21 254.98,319.44 255.14,320.33 255.30,319.02 255.47,319.39 255.63,318.76 255.80,319.17 255.96,318.01 256.13,320.28 256.29,317.33 256.46,320.13 256.62,317.93 256.78,319.04 256.95,318.14 257.11,318.40 257.28,319.49 257.44,317.89 257.61,316.57 257.77,317.82 257.94,318.21 258.10,314.57 258.27,318.41 258.43,318.47 258.59,315.09 258.76,316.87 258.92,317.93 259.09,315.56 259.25,316.35 259.42,316.38 259.58,317.38 259.75,317.98 259.91,316.60 260.07,316.68 260.24,317.67 260.40,317.20 260.57,316.42 260.73,318.11 260.90,314.88 261.06,316.74 261.23,316.09 261.39,316.02 261.56,316.88 261.72,316.74 261.88,319.62 262.05,317.55 262.21,317.26 262.38,318.85 262.54,318.17 262.71,314.89 262.87,317.27 263.04,318.07 263.20,316.58 263.36,317.70 263.53,316.91 263.69,317.95 263.86,315.72 264.02,315.44 264.19,317.12 264.35,318.08 264.52,319.41 264.68,317.66 264.85,317.19 265.01,319.15 265.17,318.22 265.34,320.28 265.50,318.21 265.67,316.18 265.83,317.53 266.00,317.41 266.16,316.98 266.33,317.72 266.49,317.86 266.65,318.35 266.82,318.10 266.98,319.20 267.15,319.24 267.31,319.01 267.48,319.07 267.64,316.79 267.81,317.05 267.97,317.95 268.14,319.22 268.30,317.34 268.46,318.51 268.63,319.26 268.79,321.18 268.96,319.29 269.12,318.41 269.29,320.21 269.45,319.23 269.62,318.67 269.78,320.22 269.94,317.97 270.11,319.19 270.27,319.05 270.44,319.95 270.60,317.66 270.77,317.47 270.93,318.45 271.10,318.56 271.26,318.88 271.43,318.39 271.59,319.26 271.75,319.51 271.92,318.95 272.08,317.49 272.25,319.91 272.41,316.86 272.58,318.30 272.74,319.48 272.91,317.72 273.07,319.82 273.23,320.46 273.40,320.01 273.56,318.64 273.73,319.18 273.89,317.39 274.06,318.34 274.22,318.30 274.39,317.77 274.55,317.72 274.72,317.17 274.88,314.98 275.04,317.57 275.21,317.30 275.37,319.16 275.54,317.37 275.70,316.36 275.87,317.07 276.03,316.47 276.20,315.36 276.36,314.53 276.52,312.73 276.69,314.25 276.85,315.64 277.02,310.49 277.18,310.96 277.35,312.44 277.51,310.79 277.68,310.11 277.84,305.74 278.01,306.33 278.17,306.68 278.33,305.54 278.50,303.88 278.66,300.95 278.83,302.44 278.99,299.21 279.16,299.61 279.32,299.64 279.49,304.53 279.65,302.54 279.81,304.36 279.98,302.05 280.14,308.09 280.31,308.13 280.47,305.97 280.64,306.85 280.80,312.10 280.97,309.03 281.13,313.31 281.30,310.52 281.46,308.08 281.62,313.14 281.79,312.46 281.95,312.77 282.12,311.20 282.28,311.56 282.45,313.04 282.61,310.51 282.78,308.77 282.94,312.43 283.10,310.06 283.27,312.32 283.43,309.50 283.60,309.13 283.76,308.87 283.93,305.29 284.09,309.74 284.26,306.43 284.42,306.31 284.59,307.99 284.75,305.08 284.91,305.35 285.08,303.49 285.24,303.17 285.41,301.32 285.57,301.72 285.74,298.42 285.90,298.58 286.07,295.69 286.23,298.23 286.39,291.76 286.56,295.54 286.72,295.69 286.89,295.73 287.05,295.40 287.22,298.24 287.38,300.22 287.55,296.31 287.71,294.96 287.88,297.30 288.04,298.71 288.20,300.76 288.37,301.77 288.53,304.39 288.70,302.76 288.86,304.05 289.03,304.86 289.19,303.84 289.36,305.09 289.52,310.03 289.68,305.93 289.85,304.73 290.01,302.91 290.18,307.64 290.34,305.40 290.51,304.63 290.67,308.92 290.84,306.90 291.00,301.43 291.17,302.84 291.33,304.16 291.49,303.01 291.66,298.83 291.82,302.50 291.99,301.46 292.15,295.11 292.32,292.53 292.48,291.66 292.65,293.81 292.81,292.97 292.97,289.62 293.14,286.38 293.30,285.56 293.47,285.06 293.63,279.64 293.80,276.77 293.96,278.30 294.13,279.35 294.29,275.42 294.46,273.79 294.62,270.32 294.78,272.48 294.95,265.24 295.11,267.85 295.28,265.69 295.44,265.96 295.61,263.62 295.77,267.22 295.94,265.21 296.10,264.16 296.26,267.12 296.43,266.42 296.59,266.16 296.76,267.03 296.92,271.34 297.09,268.83 297.25,271.95 297.42,273.48 297.58,276.47 297.75,277.19 297.91,283.96 298.07,277.79 298.24,284.49 298.40,285.17 298.57,289.30 298.73,285.98 298.90,293.19 299.06,290.25 299.23,295.76 299.39,297.14 299.55,297.94 299.72,298.23 299.88,299.62 300.05,302.52 300.21,302.52 300.38,301.96 300.54,303.39 300.71,308.37 300.87,309.38 301.04,309.85 301.20,310.03 301.36,311.26 301.53,312.12 301.69,312.42 301.86,311.62 302.02,312.23 302.19,312.17 302.35,314.27 302.52,313.19 302.68,314.58 302.84,316.71 303.01,314.87 303.17,316.76 303.34,317.67 303.50,313.72 303.67,314.36 303.83,316.81 304.00,315.50 304.16,317.10 304.33,317.39 304.49,316.01 304.65,317.68 304.82,318.82 304.98,317.93 305.15,315.79 305.31,316.69 305.48,316.25 305.64,318.77 305.81,316.70 305.97,316.12 306.13,317.00 306.30,317.56 306.46,316.51 306.63,317.07 306.79,316.94 306.96,317.81 307.12,318.08 307.29,317.23 307.45,316.33 307.62,317.35 307.78,315.79 307.94,318.10 308.11,317.21 308.27,317.06 308.44,313.85 308.60,319.54 308.77,318.41 308.93,318.16 309.10,316.76 309.26,317.37 309.42,319.96 309.59,315.67 309.75,317.35 309.92,317.14 310.08,316.55 310.25,316.76 310.41,315.11 310.58,317.04 310.74,314.62 310.91,318.39 311.07,317.10 311.23,315.05 311.40,313.50 311.56,316.14 311.73,316.59 311.89,314.72 312.06,317.95 312.22,316.20 312.39,315.27 312.55,314.09 312.71,315.63 312.88,315.51 313.04,316.53 313.21,316.99 313.37,315.72 313.54,316.24 313.70,317.41 313.87,316.40 314.03,315.31 314.20,316.39 314.36,314.98 314.52,316.17 314.69,315.68 314.85,314.26 315.02,316.37 315.18,315.73 315.35,316.54 315.51,314.01 315.68,317.02 315.84,317.08 316.00,315.24 316.17,315.56 316.33,315.75 316.50,315.68 316.66,316.74 316.83,314.84 316.99,314.32 317.16,315.44 317.32,318.07 317.49,315.26 317.65,314.51 317.81,314.61 317.98,315.94 318.14,317.17 318.31,314.81 318.47,315.91 318.64,315.95 318.80,316.23 318.97,315.81 319.13,316.90 319.29,316.42 319.46,314.77 319.62,318.48 319.79,313.75 319.95,313.74 320.12,316.59 320.28,315.47 320.45,314.85 320.61,315.32 320.78,315.82 320.94,314.33 321.10,313.94 321.27,313.28 321.43,313.37 321.60,313.29 321.76,315.60 321.93,314.31 322.09,314.46 322.26,312.81 322.42,314.67 322.58,311.01 322.75,313.41 322.91,313.42 323.08,311.41 323.24,310.47 323.41,312.20 323.57,310.14 323.74,309.47 323.90,310.24 324.07,308.25 324.23,309.15 324.39,311.74 324.56,307.69 324.72,309.10 324.89,305.67 325.05,306.76 325.22,305.64 325.38,305.17 325.55,305.96 325.71,307.47 325.87,303.24 326.04,304.78 326.20,302.49 326.37,302.27 326.53,299.34 326.70,297.87 326.86,297.50 327.03,295.12 327.19,294.84 327.36,291.07 327.52,290.81 327.68,288.59 327.85,288.84 328.01,285.28 328.18,278.77 328.34,271.87 328.51,269.01 328.67,263.57 328.84,254.61 329.00,246.12 329.16,236.93 329.33,235.93 329.49,237.33 329.66,229.28 329.82,231.56 329.99,234.54 330.15,239.91 330.32,247.01 330.48,246.82 330.65,258.59 330.81,266.50 330.97,271.52 331.14,279.77 331.30,281.22 331.47,287.98 331.63,293.14 331.80,292.51 331.96,295.76 332.13,297.60 332.29,301.44 332.45,298.54 332.62,301.28 332.78,304.52 332.95,307.52 333.11,308.18 333.28,307.11 333.44,311.45 333.61,310.10 333.77,309.79 333.94,312.01 334.10,313.62 334.26,312.30 334.43,310.87 334.59,312.58 334.76,313.82 334.92,315.27 335.09,313.13 335.25,315.04 335.42,313.51 335.58,315.35 335.74,313.86 335.91,315.16 336.07,314.08 336.24,314.95 336.40,314.40 336.57,314.13 336.73,318.13 336.90,318.22 337.06,317.53 337.23,316.67 337.39,318.95 337.55,317.01 337.72,317.95 337.88,318.89 338.05,317.92 338.21,319.48 338.38,317.68 338.54,317.76 338.71,318.17 338.87,316.77 339.03,316.94 339.20,319.13 339.36,316.33 339.53,319.66 339.69,318.75 339.86,319.84 340.02,319.42 340.19,319.28 340.35,320.62 340.52,318.62 340.68,318.63 340.84,320.06 341.01,318.09 341.17,320.15 341.34,319.69 341.50,318.39 341.67,317.56 341.83,316.75 342.00,321.14 342.16,317.41 342.32,317.76 342.49,320.10 342.65,319.69 342.82,319.42 342.98,319.30 343.15,318.76 343.31,318.23 343.48,318.45 343.64,319.95 343.81,320.50 343.97,320.64 344.13,319.30 344.30,316.87 344.46,319.94 344.63,319.22 344.79,316.43 344.96,320.95 345.12,319.67 345.29,319.38 345.45,319.67 345.61,319.59 345.78,319.73 345.94,319.61 346.11,319.51 346.27,320.12 346.44,319.88 346.60,322.16 346.77,319.66 346.93,318.95 347.10,318.85 347.26,319.93 347.42,319.64 347.59,319.78 347.75,319.28 347.92,319.29 348.08,320.31 348.25,320.97 348.41,319.83 348.58,319.31 348.74,318.12 348.90,318.10 349.07,319.40 349.23,319.05 349.40,319.18 349.56,318.01 349.73,319.07 349.89,316.99 350.06,317.78 350.22,318.18 350.39,319.67 350.55,318.27 350.71,317.83 350.88,319.13 351.04,318.65 351.21,319.73 351.37,318.98 351.54,318.78 351.70,318.24 351.87,319.13 352.03,317.45 352.19,316.45 352.36,319.15 352.52,317.47 352.69,317.98 352.85,318.55 353.02,318.92 353.18,314.26 353.35,316.32 353.51,318.89 353.68,315.36 353.84,317.83 354.00,316.75 354.17,316.05 354.33,316.87 354.50,314.94 354.66,317.36 354.83,318.22 354.99,315.06 355.16,315.93 355.32,318.13 355.48,317.11 355.65,316.27 355.81,318.37 355.98,314.65 356.14,316.35 356.31,316.82 356.47,316.37 356.64,317.75 356.80,314.86 356.97,316.98 357.13,316.06 357.29,318.50 357.46,318.40 357.62,316.37 357.79,316.05 357.95,317.39 358.12,316.53 358.28,316.97 358.45,318.24 358.61,317.31 358.77,320.04 358.94,318.12 359.10,317.54 359.27,316.95 359.43,317.74 359.60,319.68 359.76,319.14 359.93,320.22 360.09,320.17 360.26,319.39 360.42,318.06 360.58,318.75 360.75,319.07 360.91,317.21 361.08,319.50 361.24,318.03 361.41,319.15 361.57,318.73 361.74,320.00 361.90,322.32 362.06,318.14 362.23,319.48 362.39,321.79 362.56,318.56 362.72,319.37 362.89,319.53 363.05,320.02 363.22,317.94 363.38,320.07 363.55,320.42 363.71,322.56 363.87,319.72 364.04,319.19 364.20,319.99 364.37,317.01 364.53,320.24 364.70,321.58 364.86,319.86 365.03,319.87 365.19,319.65 365.35,320.08 365.52,318.58 365.68,321.62 365.85,319.45 366.01,319.46 366.18,321.76 366.34,319.99 366.51,319.51 366.67,321.76 366.84,320.18 367.00,321.00 367.16,319.36 367.33,318.06 367.49,320.17 367.66,321.53 367.82,319.48 367.99,320.37 368.15,320.76 368.32,320.25 368.48,320.04 368.64,320.80 368.81,320.18 368.97,319.36 369.14,321.08 369.30,320.80 369.47,320.33 369.63,320.69 369.80,317.02 369.96,320.17 370.13,319.90 370.29,317.67 370.45,322.09 370.62,320.18 370.78,319.30 370.95,319.34 371.11,320.01 371.28,319.67 371.44,317.89 371.61,319.18 371.77,320.08 371.93,320.22 372.10,320.46 372.26,318.28 372.43,318.70 372.59,319.76 372.76,318.62 372.92,319.47 373.09,318.24 373.25,319.76 373.42,319.10 373.58,319.61 373.74,318.92 373.91,317.91 374.07,317.33 374.24,318.67 374.40,317.83 374.57,316.73 374.73,317.70 374.90,319.14 375.06,319.55 375.22,318.90 375.39,319.49 375.55,317.37 375.72,317.51 375.88,316.46 376.05,316.55 376.21,319.25 376.38,317.75 376.54,317.89 376.71,320.12 376.87,319.21 377.03,315.76 377.20,317.88 377.36,315.69 377.53,317.70 377.69,314.13 377.86,315.18 378.02,315.11 378.19,318.59 378.35,313.88 378.51,317.33 378.68,317.20 378.84,315.92 379.01,316.70 379.17,318.76 379.34,315.75 379.50,314.95 379.67,316.84 379.83,315.96 380.00,313.32 380.16,314.82 380.32,314.72 380.49,312.63 380.65,312.61 380.82,312.70 380.98,311.68 381.15,313.64 381.31,313.03 381.48,309.29 381.64,311.38 381.80,311.83 381.97,309.43 382.13,310.59 382.30,311.10 382.46,308.06 382.63,309.81 382.79,306.75 382.96,311.07 383.12,308.95 383.29,307.99 383.45,307.55 383.61,308.02 383.78,312.38 383.94,309.71 384.11,310.43 384.27,311.06 384.44,309.94 384.60,313.44 384.77,309.48 384.93,314.42 385.09,312.66 385.26,314.12 385.42,314.83 385.59,315.89 385.75,313.61 385.92,316.26 386.08,315.74 386.25,315.90 386.41,316.00 386.58,317.94 386.74,317.36 386.90,318.50 387.07,318.23 387.23,314.90 387.40,317.25 387.56,318.66 387.73,316.45 387.89,315.57 388.06,314.87 388.22,319.93 388.38,316.46 388.55,317.72 388.71,316.18 388.88,317.88 389.04,319.26 389.21,315.42 389.37,316.95 389.54,315.95 389.70,314.43 389.87,315.44 390.03,316.38 390.19,317.66 390.36,317.51 390.52,315.67 390.69,313.37 390.85,316.05 391.02,314.96 391.18,314.70 391.35,313.00 391.51,314.05 391.67,316.60 391.84,315.79 392.00,315.33 392.17,314.39 392.33,312.86 392.50,313.31 392.66,313.47 392.83,313.79 392.99,312.85 393.16,312.25 393.32,315.00 393.48,313.19 393.65,314.97 393.81,313.84 393.98,315.18 394.14,315.21 394.31,315.75 394.47,315.93 394.64,314.11 394.80,313.86 394.96,315.76 395.13,318.11 395.29,315.26 395.46,315.36 395.62,319.48 395.79,315.02 395.95,316.37 396.12,316.72 396.28,316.54 396.45,316.70 396.61,318.86 396.77,317.90 396.94,317.94 397.10,315.82 397.27,318.75 397.43,318.03 397.60,318.02 397.76,318.82 397.93,318.21 398.09,317.79 398.25,318.30 398.42,316.95 398.58,316.70 398.75,316.15 398.91,318.89 399.08,316.99 399.24,317.99 399.41,319.13 399.57,320.00 399.74,317.52 399.90,318.21 400.06,318.22 400.23,316.69 400.39,317.77 400.56,321.67 400.72,318.49 400.89,320.71 401.05,319.67 401.22,320.92 401.38,320.53 401.54,319.39 401.71,317.84 401.87,320.94 402.04,320.22 402.20,320.05 402.37,320.55 402.53,318.77 402.70,319.87 402.86,319.78 403.03,318.19 403.19,318.56 403.35,319.79 403.52,317.53 403.68,320.82 403.85,320.89 404.01,319.99 404.18,320.40 404.34,318.13 404.51,320.33 404.67,320.98 404.83,320.73 405.00,321.20 405.16,320.14 405.33,322.40 405.49,320.71 405.66,321.11 405.82,321.43 405.99,319.43 406.15,319.05 406.32,321.14 406.48,318.93 406.64,319.65 406.81,321.38 406.97,319.13 407.14,319.26 407.30,318.98 407.47,319.21 407.63,322.38 407.80,320.95 407.96,321.40 408.12,318.26 408.29,317.76 408.45,319.12 408.62,321.51 408.78,321.65 408.95,318.24 409.11,318.49 409.28,321.10 409.44,320.66 409.61,320.87 409.77,321.12 409.93,319.31 410.10,320.54 410.26,320.10 410.43,321.74 410.59,320.08 410.76,318.37 410.92,321.79 411.09,322.38 411.25,321.48 411.41,320.07 411.58,319.40 411.74,321.52 411.91,319.86 412.07,321.00 412.24,321.28 412.40,320.29 412.57,318.27 412.73,320.98 412.90,319.36 413.06,318.75 413.22,320.39 413.39,320.59 413.55,320.35 413.72,321.13 413.88,318.38 414.05,321.08 414.21,322.21 414.38,320.37 414.54,319.91 414.70,320.27 414.87,321.78 415.03,320.26 415.20,319.61 415.36,318.63 415.53,321.99 415.69,322.01 415.86,320.48 416.02,322.71 416.19,320.05 416.35,321.26 416.51,319.06 416.68,319.39 416.84,320.47 417.01,321.00 417.17,321.15 417.34,319.52 417.50,319.92 417.67,320.37 417.83,320.19 417.99,320.21 418.16,321.37 418.32,321.75 418.49,318.50 418.65,321.92 418.82,320.69 418.98,320.85 419.15,320.86 419.31,321.51 419.48,321.25 419.64,318.85 419.80,321.44 419.97,319.29 420.13,320.92 420.30,320.74 420.46,318.84 420.63,320.52 420.79,320.23 420.96,319.78 421.12,322.69 421.28,320.68 421.45,320.10 421.61,322.38 421.78,320.47 421.94,320.36 422.11,318.34 422.27,321.15 422.44,321.58 422.60,322.56 422.77,319.40 422.93,321.62 423.09,322.00 423.26,321.27 423.42,320.49 423.59,318.70 423.75,320.68 423.92,319.88 424.08,318.59 424.25,321.12 424.41,320.33 424.57,320.21 424.74,322.58 424.90,319.87 425.07,318.20 425.23,318.04 425.40,320.99 425.56,320.19 425.73,319.59 425.89,318.11 426.06,319.50 426.22,319.17 426.38,320.25 426.55,319.43 426.71,319.40 426.88,320.28 427.04,319.47 427.21,320.66 427.37,316.59 427.54,318.93 427.70,321.57 427.86,320.46 428.03,319.05 428.19,320.00 428.36,319.56 428.52,319.77 428.69,321.71 428.85,319.68 429.02,320.34 429.18,319.16 429.35,319.26 429.51,318.35 429.67,319.30 429.84,319.55 430.00,319.63 430.17,320.01 430.33,320.03 430.50,320.62 430.66,319.64 430.83,321.29 430.99,320.49 431.15,321.32 431.32,319.72 431.48,321.09 431.65,319.84 431.81,317.89 431.98,319.67 432.14,319.47 432.31,318.04 432.47,318.54 432.64,318.94 432.80,322.12 432.96,319.93 433.13,321.58 433.29,320.60 433.46,320.76 433.62,320.45 433.79,317.90 433.95,320.94 434.12,318.44 434.28,320.04 434.44,319.45 434.61,321.37 434.77,320.91 434.94,321.63 435.10,320.16 435.27,319.64 435.43,320.50 435.60,322.31 435.76,320.27 435.93,319.76 436.09,318.39 436.25,318.94 436.42,319.69 436.58,320.55 436.75,320.51 436.91,319.75 437.08,320.03 437.24,321.58 437.41,321.94 437.57,321.26 437.73,321.64 437.90,321.36 438.06,322.01 438.23,318.69 438.39,319.52 438.56,320.35 438.72,320.53 438.89,321.58 439.05,318.17 439.22,320.33 439.38,320.48 439.54,319.48 439.71,320.07 439.87,321.32 440.04,320.76 440.20,320.13 440.37,320.51 440.53,320.16 440.70,321.32 440.86,320.21 441.02,321.39 441.19,319.75 441.35,320.32 441.52,319.16 441.68,320.15 441.85,321.28 442.01,319.30 442.18,320.02 442.34,320.51 442.51,320.02 442.67,321.31 442.83,319.09 443.00,321.34 443.16,321.84 443.33,322.20 443.49,320.36 443.66,319.58 443.82,318.75 443.99,321.17 444.15,321.32 444.31,320.75 444.48,320.81 444.64,321.16 444.81,320.06 444.97,318.87 445.14,318.92 445.30,319.60 445.47,319.46 445.63,318.74 445.80,319.98 445.96,319.33 446.12,321.14 446.29,320.36 446.45,321.29 446.62,319.02 446.78,319.26 446.95,318.72 447.11,320.73 447.28,323.77 447.44,320.66 447.60,319.96 447.77,320.65 447.93,320.38 448.10,321.44 448.26,320.40 448.43,319.46 448.59,318.35 448.76,320.78 448.92,321.46 449.09,320.54 449.25,319.42 449.41,319.90 449.58,320.01 449.74,320.98 449.91,320.28 450.07,321.60 450.24,320.11 450.40,319.63 450.57,322.30 450.73,319.22 450.89,319.44 451.06,322.53 451.22,320.57 451.39,322.18 451.55,317.55 451.72,321.59 451.88,320.22 452.05,320.32 452.21,320.72 452.38,317.19 452.54,319.19 452.70,320.63 452.87,323.63 453.03,319.29 453.20,322.65 453.36,320.76 453.53,321.16 453.69,318.97 453.86,320.66 454.02,319.04 454.18,318.62 454.35,321.31 454.51,319.12 454.68,319.30 454.84,320.59 455.01,318.91 455.17,318.38 455.34,319.98 455.50,319.99 455.67,321.33 455.83,318.38 455.99,320.37 456.16,320.33 456.32,319.01 456.49,319.26 456.65,319.43 456.82,318.20 456.98,317.83 457.15,320.04 457.31,318.00 457.47,318.05 457.64,319.97 457.80,318.41 457.97,318.50 458.13,317.32 458.30,317.43 458.46,317.19 458.63,317.12 458.79,320.04 458.96,317.44 459.12,315.81 459.28,317.11 459.45,319.11 459.61,316.87 459.78,318.07 459.94,316.95 460.11,315.91 460.27,317.22 460.44,316.57 460.60,317.87 460.76,318.40 460.93,317.39 461.09,320.49 461.26,316.02 461.42,318.76 461.59,317.57 461.75,318.63 461.92,317.49 462.08,314.04 462.25,316.27 462.41,317.76 462.57,316.43 462.74,314.68 462.90,315.50 463.07,316.45 463.23,317.43 463.40,315.06 463.56,315.80 463.73,314.40 463.89,313.93 464.05,314.65 464.22,316.86 464.38,315.95 464.55,314.57 464.71,314.75 464.88,315.34 465.04,314.37 465.21,313.84 465.37,313.88 465.54,314.96 465.70,313.50 465.86,314.89 466.03,311.34 466.19,312.63 466.36,312.94 466.52,314.14 466.69,312.03 466.85,312.41 467.02,313.41 467.18,312.74 467.34,311.86 467.51,312.19 467.67,311.29 467.84,313.48 468.00,312.88 468.17,313.33 468.33,315.11 468.50,313.67 468.66,312.56 468.83,311.67 468.99,314.78 469.15,311.95 469.32,311.24 469.48,313.21 469.65,311.95 469.81,310.93 469.98,311.80 470.14,313.80 470.31,311.22 470.47,311.46 470.63,309.63 470.80,310.09 470.96,311.87 471.13,310.39 471.29,310.56 471.46,311.79 471.62,309.64 471.79,312.12 471.95,308.84 472.12,308.48 472.28,308.19 472.44,306.94 472.61,309.62 472.77,308.56 472.94,310.21 473.10,306.81 473.27,308.62 473.43,309.09 473.60,306.36 473.76,305.98 473.92,301.98 474.09,308.24 474.25,304.56 474.42,305.30 474.58,302.87 474.75,303.69 474.91,300.77 475.08,303.29 475.24,301.75 475.41,300.52 475.57,301.43 475.73,297.42 475.90,300.39 476.06,299.23 476.23,302.31 476.39,301.23 476.56,299.81 476.72,299.91 476.89,305.67 477.05,299.62 477.21,304.88 477.38,303.91 477.54,304.34 477.71,300.82 477.87,305.83 478.04,304.52 478.20,304.67 478.37,307.67 478.53,306.46 478.70,309.04 478.86,307.54 479.02,310.38 479.19,310.79 479.35,309.60 479.52,310.03 479.68,310.95 479.85,311.65 480.01,312.03 480.18,315.68 480.34,314.21 480.50,313.61 480.67,313.99 480.83,313.71 481.00,315.38 481.16,315.24 481.33,314.74 481.49,314.97 481.66,315.55 481.82,314.98 481.99,316.60 482.15,315.55 482.31,317.46 482.48,316.59 482.64,317.76 482.81,316.60 482.97,315.23 483.14,316.02 483.30,317.34 483.47,318.24 483.63,318.38 483.79,318.62 483.96,318.91 484.12,318.65 484.29,318.82 484.45,318.16 484.62,319.13 484.78,318.46 484.95,318.58 485.11,318.95 485.28,321.39 485.44,317.24 485.60,318.42 485.77,318.72 485.93,319.56 486.10,319.16 486.26,321.02 486.43,317.53 486.59,321.32 486.76,317.98 486.92,318.63 487.08,320.08 487.25,319.60 487.41,319.53 487.58,319.68 487.74,320.06 487.91,320.73 488.07,320.16 488.24,318.38 488.40,318.98 488.57,321.31 488.73,321.94 488.89,320.89 489.06,321.07 489.22,320.27 489.39,322.20 489.55,319.37 489.72,319.65 489.88,319.19 490.05,321.74 490.21,319.51 490.37,320.64 490.54,318.63 490.70,318.56 490.87,321.22 491.03,320.93 491.20,321.10 491.36,320.43 491.53,319.91 491.69,319.80 491.86,319.07 492.02,319.86 492.18,321.72 492.35,320.13 492.51,318.91 492.68,320.06 492.84,319.28 493.01,319.12 493.17,320.23 493.34,319.54 493.50,319.02 493.66,321.99 493.83,322.21 493.99,320.54 494.16,321.97 494.32,319.91 494.49,320.37 494.65,321.80 494.82,320.74 494.98,321.29 495.15,317.51 495.31,320.74 495.47,319.99 495.64,320.33 495.80,318.83 495.97,319.63 496.13,321.09 496.30,321.08 496.46,321.28 496.63,321.37 496.79,321.64 496.95,320.88 497.12,320.23 497.28,319.87 497.45,320.04 497.61,319.46 497.78,319.44 497.94,320.40 498.11,318.08 498.27,319.20 498.44,319.65 498.60,321.07 498.76,321.65 498.93,320.87 499.09,320.47 499.26,320.00 499.42,321.71 499.59,321.28 499.75,319.84 499.92,320.51 500.08,320.98 500.24,321.51 500.41,320.20 500.57,322.15 500.74,321.80 500.90,320.12 501.07,320.37 501.23,319.60 501.40,319.63 501.56,320.92 501.73,322.10 501.89,322.12 502.05,320.81 502.22,320.22 502.38,319.94 502.55,321.08 502.71,320.14 502.88,321.39 503.04,320.51 503.21,320.95 503.37,320.10 503.53,322.79 503.70,321.86 503.86,320.75 504.03,319.73 504.19,321.26 504.36,321.46 504.52,319.47 504.69,320.75 504.85,322.83 505.02,320.87 505.18,320.27 505.34,321.31 505.51,322.61 505.67,320.22 505.84,320.24 506.00,320.45 506.17,320.78 506.33,321.96 506.50,321.06 506.66,318.37 506.82,321.18 506.99,321.14 507.15,321.40 507.32,321.02 507.48,320.60 507.65,321.27 507.81,320.02 507.98,318.96 508.14,320.38 508.31,319.57 508.47,322.50 508.63,320.61 508.80,322.37 508.96,319.30 509.13,319.44 509.29,321.16 509.46,318.91 509.62,320.03 509.79,318.67 509.95,321.15 510.11,318.89 510.28,320.56 510.44,318.84 510.61,321.20 510.77,321.82 510.94,320.82 511.10,319.65 511.27,321.14 511.43,321.72 511.60,321.49 511.76,322.02 511.92,322.69 512.09,320.93 512.25,320.41 512.42,320.02 512.58,320.68 512.75,320.44 512.91,320.13 513.08,321.05 513.24,322.78 513.40,319.85 513.57,320.18 513.73,320.31 513.90,319.60 514.06,321.79 514.23,320.52 514.39,321.31 514.56,318.99 514.72,321.27 514.89,320.54 515.05,319.15 515.21,321.58 515.38,321.67 515.54,320.92 515.71,321.17 515.87,319.68 516.04,321.76 516.20,320.43 516.37,321.18 516.53,321.31 516.69,321.19 516.86,319.92 517.02,320.98 517.19,320.84 517.35,321.93 517.52,319.90 517.68,321.70 517.85,321.20 518.01,320.75 518.18,322.68 518.34,321.55 518.50,320.12 518.67,321.02 518.83,319.91 519.00,319.47 519.16,320.17 519.33,320.18 519.49,322.50 519.66,321.54 519.82,318.15 519.98,320.54 520.15,319.96 520.31,320.55 520.48,320.89 520.64,320.74 520.81,321.14 520.97,319.88 521.14,322.19 521.30,320.56 521.47,322.00 521.63,320.60 521.79,321.22 521.96,319.69 522.12,321.87 522.29,321.01 522.45,320.28 522.62,321.10 522.78,321.20 522.95,319.08 523.11,319.91 523.27,319.65 523.44,321.58 523.60,320.90 523.77,320.00 523.93,319.96 524.10,320.66 524.26,318.28 524.43,320.52 524.59,322.35 524.76,319.22 524.92,319.44 525.08,319.51 525.25,321.17 525.41,319.91 525.58,322.68 525.74,320.49 525.91,320.18 526.07,319.55 526.24,321.42 526.40,321.84 526.56,320.89 526.73,322.08 526.89,322.02 527.06,321.09 527.22,320.78 527.39,320.14 527.55,320.95 527.72,320.35 527.88,322.28 528.05,321.52 528.21,320.55 528.37,320.32 528.54,321.17 528.70,321.84 528.87,321.03 529.03,321.81 529.20,320.27 529.36,320.98 529.53,321.43 529.69,320.95 529.85,321.16 530.02,321.82 530.18,320.75 530.35,321.81 530.51,320.22 530.68,321.29 530.84,320.32 531.01,320.37 531.17,321.41 531.34,322.12 531.50,320.66"/>
<g stroke="#4383ea" stroke-width="1.15" fill="none"><line x1="67.39" y1="343.60" x2="67.39" y2="341.03"/><line x1="78.58" y1="343.60" x2="78.58" y2="342.72"/><line x1="80.66" y1="343.60" x2="80.66" y2="342.72"/><line x1="87.19" y1="343.60" x2="87.19" y2="335.90"/><line x1="97.22" y1="343.60" x2="97.22" y2="339.71"/><line x1="109.61" y1="343.60" x2="109.61" y2="335.90"/><line x1="142.29" y1="343.60" x2="142.29" y2="340.06"/><line x1="149.31" y1="343.60" x2="149.31" y2="296.70"/><line x1="152.93" y1="343.60" x2="152.93" y2="327.67"/><line x1="154.69" y1="343.60" x2="154.69" y2="338.82"/><line x1="160.28" y1="343.60" x2="160.28" y2="248.02"/><line x1="170.31" y1="343.60" x2="170.31" y2="234.30"/><line x1="175.80" y1="343.60" x2="175.80" y2="333.87"/><line x1="177.39" y1="343.60" x2="177.39" y2="329.44"/><line x1="179.47" y1="343.60" x2="179.47" y2="329.88"/><line x1="180.84" y1="343.60" x2="180.84" y2="340.06"/><line x1="186.43" y1="343.60" x2="186.43" y2="296.70"/><line x1="194.11" y1="343.60" x2="194.11" y2="336.52"/><line x1="198.66" y1="343.60" x2="198.66" y2="342.72"/><line x1="204.69" y1="343.60" x2="204.69" y2="313.51"/><line x1="216.32" y1="343.60" x2="216.32" y2="324.13"/><line x1="229.37" y1="343.60" x2="229.37" y2="341.83"/><line x1="239.57" y1="343.60" x2="239.57" y2="340.06"/><line x1="259.53" y1="343.60" x2="259.53" y2="338.73"/><line x1="261.17" y1="343.60" x2="261.17" y2="341.83"/><line x1="274.55" y1="343.60" x2="274.55" y2="341.83"/><line x1="277.46" y1="343.60" x2="277.46" y2="338.02"/><line x1="279.16" y1="343.60" x2="279.16" y2="336.79"/><line x1="282.56" y1="343.60" x2="282.56" y2="342.72"/><line x1="285.85" y1="343.60" x2="285.85" y2="309.09"/><line x1="286.89" y1="343.60" x2="286.89" y2="325.02"/><line x1="289.08" y1="343.60" x2="289.08" y2="337.41"/><line x1="292.43" y1="343.60" x2="292.43" y2="323.25"/><line x1="294.89" y1="343.60" x2="294.89" y2="296.70"/><line x1="296.81" y1="343.60" x2="296.81" y2="340.06"/><line x1="298.46" y1="343.60" x2="298.46" y2="334.75"/><line x1="308.88" y1="343.60" x2="308.88" y2="342.27"/><line x1="314.09" y1="343.60" x2="314.09" y2="338.73"/><line x1="329.49" y1="343.60" x2="329.49" y2="248.91"/><line x1="333.88" y1="343.60" x2="333.88" y2="340.06"/><line x1="337.94" y1="343.60" x2="337.94" y2="342.72"/><line x1="344.19" y1="343.60" x2="344.19" y2="340.95"/><line x1="345.61" y1="343.60" x2="345.61" y2="340.95"/><line x1="354.55" y1="343.60" x2="354.55" y2="333.16"/><line x1="357.29" y1="343.60" x2="357.29" y2="340.95"/><line x1="361.52" y1="343.60" x2="361.52" y2="342.72"/><line x1="378.19" y1="343.60" x2="378.19" y2="330.77"/><line x1="382.35" y1="343.60" x2="382.35" y2="331.83"/><line x1="384.27" y1="343.60" x2="384.27" y2="340.95"/><line x1="391.68" y1="343.60" x2="391.68" y2="339.18"/><line x1="393.32" y1="343.60" x2="393.32" y2="340.95"/><line x1="397.71" y1="343.60" x2="397.71" y2="340.06"/><line x1="399.08" y1="343.60" x2="399.08" y2="341.83"/><line x1="403.74" y1="343.60" x2="403.74" y2="341.21"/><line x1="409.22" y1="343.60" x2="409.22" y2="341.39"/><line x1="416.90" y1="343.60" x2="416.90" y2="342.27"/><line x1="421.56" y1="343.60" x2="421.56" y2="342.27"/><line x1="433.18" y1="343.60" x2="433.18" y2="338.29"/><line x1="434.44" y1="343.60" x2="434.44" y2="340.95"/><line x1="442.67" y1="343.60" x2="442.67" y2="342.72"/><line x1="464.38" y1="343.60" x2="464.38" y2="338.56"/><line x1="465.97" y1="343.60" x2="465.97" y2="340.95"/><line x1="469.81" y1="343.60" x2="469.81" y2="338.56"/><line x1="471.57" y1="343.60" x2="471.57" y2="337.23"/><line x1="473.38" y1="343.60" x2="473.38" y2="337.85"/><line x1="475.57" y1="343.60" x2="475.57" y2="335.90"/></g>
<g stroke="#f25c5c" stroke-width="1.15" fill="none"><line x1="83.07" y1="343.60" x2="83.07" y2="332.60"/><line x1="147.89" y1="343.60" x2="147.89" y2="312.10"/><line x1="177.44" y1="343.60" x2="177.44" y2="235.60"/><line x1="186.27" y1="343.60" x2="186.27" y2="335.80"/><line x1="219.61" y1="343.60" x2="219.61" y2="321.90"/><line x1="276.25" y1="343.60" x2="276.25" y2="334.90"/><line x1="296.05" y1="343.60" x2="296.05" y2="315.90"/><line x1="326.42" y1="343.60" x2="326.42" y2="306.80"/><line x1="343.97" y1="343.60" x2="343.97" y2="342.10"/><line x1="372.48" y1="343.60" x2="372.48" y2="341.30"/><line x1="389.37" y1="343.60" x2="389.37" y2="337.20"/><line x1="394.58" y1="343.60" x2="394.58" y2="341.30"/><line x1="416.90" y1="343.60" x2="416.90" y2="341.60"/><line x1="459.12" y1="343.60" x2="459.12" y2="341.10"/><line x1="475.30" y1="343.60" x2="475.30" y2="334.60"/></g>
<rect x="38.0" y="195.8" width="493.5" height="147.8" fill="none" stroke="#000" stroke-width="1.4"/><g stroke="#000" stroke-width="1.4"><line x1="38.00" y1="343.6" x2="38.00" y2="347.50"/><line x1="92.83" y1="343.6" x2="92.83" y2="351.00"/><line x1="147.67" y1="343.6" x2="147.67" y2="347.50"/><line x1="202.50" y1="343.6" x2="202.50" y2="351.00"/><line x1="257.33" y1="343.6" x2="257.33" y2="347.50"/><line x1="312.17" y1="343.6" x2="312.17" y2="351.00"/><line x1="367.00" y1="343.6" x2="367.00" y2="347.50"/><line x1="421.83" y1="343.6" x2="421.83" y2="351.00"/><line x1="476.67" y1="343.6" x2="476.67" y2="347.50"/><line x1="531.50" y1="343.6" x2="531.50" y2="351.00"/></g>
<g font-size="19.3px" fill="#000" stroke="#000" stroke-width="0.25"><text x="92.83" y="371.6" text-anchor="middle">20</text><text x="202.50" y="371.6" text-anchor="middle">40</text><text x="312.17" y="371.6" text-anchor="middle">60</text><text x="421.83" y="371.6" text-anchor="middle">80</text><text x="531.50" y="371.6" text-anchor="middle">100</text></g>
<g font-size="8px" stroke-width="0.2"><text transform="translate(177.40,208.70) scale(1,1.13)" text-anchor="middle" fill="#f25c5c" stroke="#f25c5c">311</text></g>
<text x="43.2" y="218.4" font-size="19.2px" fill="#000" stroke="#000" stroke-width="0.25">FO_11</text>
<text transform="translate(22.0,270.5) rotate(-90)" text-anchor="middle" font-size="19px" fill="#000" stroke="#000" stroke-width="0.25">Intensity</text>
<line x1="379" y1="209.3" x2="407.1" y2="209.3" stroke="#2ea866" stroke-width="1.2"/>
<text x="410.6" y="213.7" font-size="12px" fill="#000">FO_11</text>
<line x1="380.9" y1="220" x2="380.9" y2="230.6" stroke="#4383ea" stroke-width="1.2"/>
<text x="385.9" y="228.8" font-size="12.3px" fill="#000">SrFe<tspan font-size="8.1px" dy="3.5">12</tspan><tspan dy="-3.5">O</tspan><tspan font-size="8.1px" dy="3.5">19</tspan><tspan dy="-3.5">  PDF [84-1531]</tspan></text>
<line x1="380.9" y1="237.5" x2="380.9" y2="248" stroke="#f25c5c" stroke-width="1.2"/>
<text x="386.2" y="246" font-size="12.3px" fill="#000">Fe<tspan font-size="8.1px" dy="3.5">3</tspan><tspan dy="-3.5">O</tspan><tspan font-size="8.1px" dy="3.5">4</tspan><tspan dy="-3.5"> PDF [89-0691]</tspan></text>
<text x="234.5" y="403.8" font-size="19px" fill="#000" stroke="#000" stroke-width="0.25">2<tspan dx="1.5" font-family="'Liberation Serif', serif" font-style="italic" font-size="21px">θ</tspan>, degrees</text>
</svg>
</body></html>
